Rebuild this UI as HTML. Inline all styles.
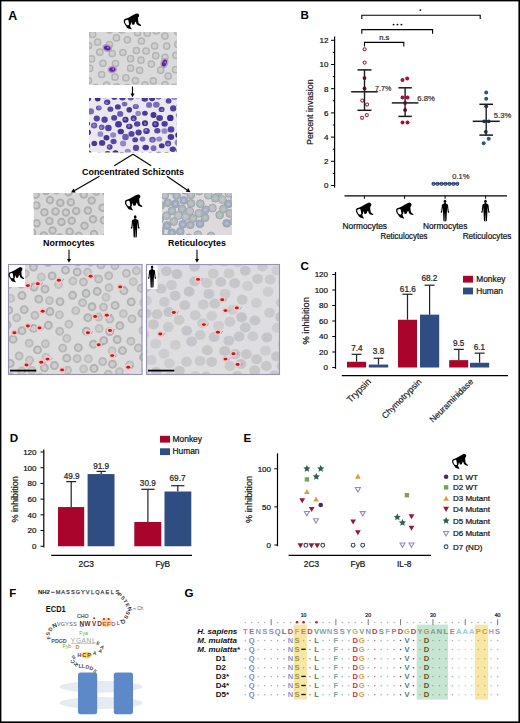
<!DOCTYPE html>
<html><head><meta charset="utf-8"><style>
html,body{margin:0;padding:0;background:#fff;}
svg{display:block;}
text{font-family:"Liberation Sans",sans-serif;}
</style></head><body>
<svg width="520" height="723" viewBox="0 0 520 723">
<defs><g id="monkey"><path fill-rule="evenodd" d="M12.73,-0.18 L14.28,0.22 L15.15,1.43 L14.92,3.16 L14.00,3.97 L14.11,6.74 L14.57,9.34 L16.02,10.66 L17.17,11.47 L16.88,12.28 L15.44,12.05 L13.71,11.36 L12.55,10.32 L12.15,8.82 L11.57,7.89 L11.00,8.93 L10.36,10.78 L9.15,11.18 L8.05,10.84 L7.65,9.22 L7.24,8.36 L6.96,9.63 L6.73,11.01 L6.03,12.05 L6.61,13.55 L7.65,15.17 L7.30,15.86 L5.63,15.17 L3.96,14.82 L2.80,13.78 L1.76,12.16 L0.61,10.43 L-0.26,8.70 L-0.26,6.86 L0.61,5.47 L2.46,4.89 L5.34,3.74 L8.23,2.01 L11.11,0.51 Z M1.59,6.68 L3.32,6.16 L4.36,6.63 L4.76,8.93 L5.11,10.66 L4.53,11.59 L3.38,11.59 L1.99,10.66 L1.07,8.70 L1.07,7.32 Z" fill="#000"/></g><g id="human"><ellipse cx="5" cy="1.7" rx="1.35" ry="1.7" fill="#000"/><path d="M4.2,3.2 L5.8,3.2 L6.0,4.0 L7.6,4.6 C8.1,4.9 8.2,5.6 8.3,6.6 L8.8,11.6 C9.5,12.0 9.6,13.1 8.9,13.4 C8.2,13.6 7.7,12.9 7.8,12.0 L7.2,7.6 L7.1,11.0 L6.8,16.5 L6.6,21.2 C6.7,22.0 6.0,22.4 5.3,22.3 L5.1,14.2 L4.9,14.2 L4.7,22.3 C4.0,22.4 3.3,22.0 3.4,21.2 L3.2,16.5 L2.9,11.0 L2.8,7.6 L2.2,12.0 C2.3,12.9 1.8,13.6 1.1,13.4 C0.4,13.1 0.5,12.0 1.2,11.6 L1.7,6.6 C1.8,5.6 1.9,4.9 2.4,4.6 L4.0,4.0 Z" fill="#000"/></g>
<filter id="soft" x="-5%" y="-5%" width="110%" height="110%"><feGaussianBlur stdDeviation="0.45"/></filter>
</defs>
<rect x="0" y="0" width="520" height="723" fill="#000"/>
<rect x="1.4" y="1.4" width="517" height="720" fill="#fff"/>
<text x="8.2" y="20.1" font-size="12.4" fill="#000" font-weight="bold">A</text>
<use href="#monkey" transform="translate(124,13.6) scale(1.0,1.0)"/>
<clipPath id="c1"><rect x="89" y="32" width="88" height="53"/></clipPath>
<g clip-path="url(#c1)" filter="url(#soft)">
<rect x="89" y="32" width="88" height="53" fill="#dadada"/>
<circle cx="116.4" cy="37.9" r="3.1" fill="#cfcfcf" stroke="#b4b4b4" stroke-width="1.5"/>
<circle cx="147.2" cy="33.3" r="3.1" fill="#cfcfcf" stroke="#b4b4b4" stroke-width="1.5"/>
<circle cx="136.4" cy="50.6" r="3.1" fill="#cfcfcf" stroke="#b4b4b4" stroke-width="1.5"/>
<circle cx="91.5" cy="58.9" r="3.1" fill="#cfcfcf" stroke="#b4b4b4" stroke-width="1.5"/>
<circle cx="92.6" cy="34.4" r="3.1" fill="#cfcfcf" stroke="#b4b4b4" stroke-width="1.5"/>
<circle cx="125.9" cy="77.8" r="3.1" fill="#cfcfcf" stroke="#b4b4b4" stroke-width="1.5"/>
<circle cx="97.6" cy="42.2" r="3.1" fill="#cfcfcf" stroke="#b4b4b4" stroke-width="1.5"/>
<circle cx="145.0" cy="84.9" r="3.1" fill="#cfcfcf" stroke="#b4b4b4" stroke-width="1.5"/>
<circle cx="177.8" cy="31.7" r="3.1" fill="#cfcfcf" stroke="#b4b4b4" stroke-width="1.5"/>
<circle cx="166.7" cy="46.1" r="3.1" fill="#cfcfcf" stroke="#b4b4b4" stroke-width="1.5"/>
<circle cx="115.0" cy="77.2" r="3.1" fill="#cfcfcf" stroke="#b4b4b4" stroke-width="1.5"/>
<circle cx="103.0" cy="63.3" r="3.1" fill="#cfcfcf" stroke="#b4b4b4" stroke-width="1.5"/>
<circle cx="146.1" cy="51.0" r="3.1" fill="#cfcfcf" stroke="#b4b4b4" stroke-width="1.5"/>
<circle cx="137.5" cy="32.7" r="3.1" fill="#cfcfcf" stroke="#b4b4b4" stroke-width="1.5"/>
<circle cx="115.5" cy="63.5" r="3.1" fill="#cfcfcf" stroke="#b4b4b4" stroke-width="1.5"/>
<circle cx="160.7" cy="70.2" r="3.1" fill="#cfcfcf" stroke="#b4b4b4" stroke-width="1.5"/>
<circle cx="135.4" cy="80.6" r="3.1" fill="#cfcfcf" stroke="#b4b4b4" stroke-width="1.5"/>
<circle cx="154.6" cy="46.0" r="3.1" fill="#cfcfcf" stroke="#b4b4b4" stroke-width="1.5"/>
<circle cx="89.7" cy="68.4" r="3.1" fill="#cfcfcf" stroke="#b4b4b4" stroke-width="1.5"/>
<circle cx="151.4" cy="64.1" r="3.1" fill="#cfcfcf" stroke="#b4b4b4" stroke-width="1.5"/>
<circle cx="165.0" cy="84.7" r="3.1" fill="#cfcfcf" stroke="#b4b4b4" stroke-width="1.5"/>
<circle cx="130.6" cy="68.2" r="3.1" fill="#cfcfcf" stroke="#b4b4b4" stroke-width="1.5"/>
<circle cx="112.2" cy="53.5" r="3.1" fill="#cfcfcf" stroke="#b4b4b4" stroke-width="1.5"/>
<circle cx="175.6" cy="69.7" r="3.1" fill="#cfcfcf" stroke="#b4b4b4" stroke-width="1.5"/>
<circle cx="168.2" cy="76.1" r="3.1" fill="#cfcfcf" stroke="#b4b4b4" stroke-width="1.5"/>
<circle cx="122.9" cy="52.5" r="3.1" fill="#cfcfcf" stroke="#b4b4b4" stroke-width="1.5"/>
<circle cx="88.4" cy="80.6" r="3.1" fill="#cfcfcf" stroke="#b4b4b4" stroke-width="1.5"/>
<circle cx="101.7" cy="74.5" r="3.1" fill="#cfcfcf" stroke="#b4b4b4" stroke-width="1.5"/>
<circle cx="88.6" cy="45.5" r="3.1" fill="#cfcfcf" stroke="#b4b4b4" stroke-width="1.5"/>
<circle cx="175.9" cy="55.4" r="3.1" fill="#cfcfcf" stroke="#b4b4b4" stroke-width="1.5"/>
<circle cx="174.1" cy="87.3" r="3.1" fill="#cfcfcf" stroke="#b4b4b4" stroke-width="1.5"/>
<circle cx="165.0" cy="57.3" r="3.1" fill="#cfcfcf" stroke="#b4b4b4" stroke-width="1.5"/>
<circle cx="127.4" cy="39.8" r="3.1" fill="#cfcfcf" stroke="#b4b4b4" stroke-width="1.5"/>
<circle cx="106.6" cy="85.2" r="3.1" fill="#cfcfcf" stroke="#b4b4b4" stroke-width="1.5"/>
<circle cx="139.6" cy="70.3" r="3.1" fill="#cfcfcf" stroke="#b4b4b4" stroke-width="1.5"/>
<circle cx="109.5" cy="29.9" r="3.1" fill="#cfcfcf" stroke="#b4b4b4" stroke-width="1.5"/>
<circle cx="130.6" cy="58.7" r="3.1" fill="#cfcfcf" stroke="#b4b4b4" stroke-width="1.5"/>
<circle cx="141.0" cy="60.2" r="3.1" fill="#cfcfcf" stroke="#b4b4b4" stroke-width="1.5"/>
<circle cx="153.3" cy="80.9" r="3.1" fill="#cfcfcf" stroke="#b4b4b4" stroke-width="1.5"/>
<circle cx="164.9" cy="36.1" r="3.1" fill="#cfcfcf" stroke="#b4b4b4" stroke-width="1.5"/>
<circle cx="109.4" cy="44.7" r="3.1" fill="#cfcfcf" stroke="#b4b4b4" stroke-width="1.5"/>
<circle cx="177.8" cy="44.3" r="3.1" fill="#cfcfcf" stroke="#b4b4b4" stroke-width="1.5"/>
<circle cx="99.8" cy="52.2" r="3.1" fill="#cfcfcf" stroke="#b4b4b4" stroke-width="1.5"/>
<circle cx="156.2" cy="30.9" r="3.1" fill="#cfcfcf" stroke="#b4b4b4" stroke-width="1.5"/>
<circle cx="116.6" cy="86.8" r="3.1" fill="#cfcfcf" stroke="#b4b4b4" stroke-width="1.5"/>
<circle cx="95.8" cy="87.6" r="3.1" fill="#cfcfcf" stroke="#b4b4b4" stroke-width="1.5"/>
<circle cx="141.4" cy="41.0" r="3.1" fill="#cfcfcf" stroke="#b4b4b4" stroke-width="1.5"/>
<circle cx="155.7" cy="55.7" r="3.1" fill="#cfcfcf" stroke="#b4b4b4" stroke-width="1.5"/>
<circle cx="121.8" cy="30.0" r="3.1" fill="#cfcfcf" stroke="#b4b4b4" stroke-width="1.5"/>
<circle cx="127.4" cy="87.6" r="3.1" fill="#cfcfcf" stroke="#b4b4b4" stroke-width="1.5"/>
<ellipse cx="107.2" cy="48" rx="5.0" ry="4.0" fill="#b89ad4" transform="rotate(15 107.2 48)"/>
<ellipse cx="107.2" cy="48" rx="3.4" ry="2.4" fill="#5a2f8c" transform="rotate(15 107.2 48)"/>
<circle cx="108.0" cy="47.4" r="0.9" fill="#a886cc"/>
<ellipse cx="112.3" cy="69.5" rx="4.8" ry="3.9" fill="#b89ad4" transform="rotate(-10 112.3 69.5)"/>
<ellipse cx="112.3" cy="69.5" rx="3.1999999999999997" ry="2.3" fill="#5a2f8c" transform="rotate(-10 112.3 69.5)"/>
<circle cx="113.1" cy="68.9" r="0.9" fill="#a886cc"/>
<ellipse cx="164.4" cy="63" rx="3.9" ry="5.2" fill="#b89ad4" transform="rotate(20 164.4 63)"/>
<ellipse cx="164.4" cy="63" rx="2.3" ry="3.6" fill="#5a2f8c" transform="rotate(20 164.4 63)"/>
<circle cx="165.20000000000002" cy="62.4" r="0.9" fill="#a886cc"/>
</g>
<line x1="132.5" y1="86.5" x2="132.5" y2="94.10000000000001" stroke="#000" stroke-width="1.1"/>
<path d="M132.50,97.20 L130.50,93.60 L134.50,93.60 Z" fill="#000"/>
<clipPath id="c2"><rect x="89" y="98" width="88" height="54.5"/></clipPath>
<g clip-path="url(#c2)" filter="url(#soft)">
<rect x="89" y="98" width="88" height="54.5" fill="#ebe7ef"/>
<ellipse cx="108.4" cy="127.9" rx="3.27" ry="3.23" fill="#5242a0"/>
<ellipse cx="120.8" cy="131.5" rx="3.18" ry="2.84" fill="#443494"/>
<ellipse cx="144.8" cy="99.0" rx="3.22" ry="2.77" fill="#4c3c9c"/>
<ellipse cx="87.2" cy="145.7" rx="3.05" ry="2.82" fill="#5646a4"/>
<circle cx="87.6" cy="146.1" r="1.37" fill="#a89cd4" opacity="0.6"/>
<ellipse cx="110.4" cy="109.2" rx="2.97" ry="2.66" fill="#5646a4"/>
<ellipse cx="179.6" cy="123.5" rx="2.85" ry="2.53" fill="#4a3898"/>
<ellipse cx="164.6" cy="123.8" rx="3.18" ry="2.89" fill="#4c3c9c"/>
<ellipse cx="145.7" cy="147.5" rx="3.31" ry="2.82" fill="#4a3898"/>
<ellipse cx="135.2" cy="139.8" rx="2.94" ry="2.54" fill="#5242a0"/>
<ellipse cx="157.3" cy="130.8" rx="3.13" ry="2.68" fill="#5646a4"/>
<ellipse cx="114.3" cy="96.9" rx="2.96" ry="2.93" fill="#443494"/>
<ellipse cx="153.6" cy="148.2" rx="2.90" ry="2.88" fill="#7a6cb4"/>
<ellipse cx="123.1" cy="143.5" rx="3.11" ry="2.93" fill="#9488c4"/>
<ellipse cx="127.8" cy="151.6" rx="3.01" ry="2.90" fill="#9488c4"/>
<circle cx="127.7" cy="151.7" r="1.35" fill="#a89cd4" opacity="0.6"/>
<ellipse cx="168.6" cy="100.9" rx="2.90" ry="2.58" fill="#5646a4"/>
<ellipse cx="98.8" cy="108.1" rx="2.91" ry="2.48" fill="#6a5cae"/>
<circle cx="99.5" cy="107.5" r="1.31" fill="#a89cd4" opacity="0.6"/>
<ellipse cx="144.9" cy="113.2" rx="2.84" ry="2.52" fill="#4a3898"/>
<ellipse cx="133.7" cy="118.3" rx="3.02" ry="2.94" fill="#4c3c9c"/>
<circle cx="133.4" cy="119.1" r="1.36" fill="#a89cd4" opacity="0.6"/>
<ellipse cx="166.5" cy="155.0" rx="3.10" ry="2.99" fill="#5242a0"/>
<ellipse cx="149.1" cy="104.9" rx="3.00" ry="2.85" fill="#7a6cb4"/>
<ellipse cx="171.0" cy="129.4" rx="3.33" ry="3.16" fill="#5242a0"/>
<ellipse cx="94.3" cy="143.4" rx="2.84" ry="2.63" fill="#4a3898"/>
<ellipse cx="124.6" cy="104.1" rx="2.86" ry="2.45" fill="#7a6cb4"/>
<ellipse cx="113.6" cy="141.5" rx="3.02" ry="2.65" fill="#5646a4"/>
<ellipse cx="153.5" cy="115.0" rx="2.98" ry="2.91" fill="#443494"/>
<ellipse cx="133.5" cy="155.4" rx="2.88" ry="2.83" fill="#443494"/>
<circle cx="133.3" cy="154.9" r="1.30" fill="#a89cd4" opacity="0.6"/>
<ellipse cx="104.6" cy="119.7" rx="3.16" ry="3.15" fill="#5242a0"/>
<ellipse cx="115.5" cy="153.0" rx="3.02" ry="2.74" fill="#3e2e88"/>
<ellipse cx="170.3" cy="117.9" rx="3.26" ry="3.20" fill="#3e2e88"/>
<ellipse cx="129.3" cy="126.5" rx="3.26" ry="2.77" fill="#443494"/>
<circle cx="129.0" cy="126.0" r="1.47" fill="#a89cd4" opacity="0.6"/>
<ellipse cx="146.5" cy="131.0" rx="3.32" ry="3.09" fill="#4c3c9c"/>
<circle cx="145.9" cy="130.3" r="1.49" fill="#a89cd4" opacity="0.6"/>
<ellipse cx="138.6" cy="132.5" rx="3.17" ry="2.89" fill="#4c3c9c"/>
<ellipse cx="137.6" cy="95.7" rx="3.32" ry="2.89" fill="#9488c4"/>
<circle cx="138.1" cy="95.8" r="1.49" fill="#a89cd4" opacity="0.6"/>
<ellipse cx="87.9" cy="132.3" rx="3.08" ry="2.91" fill="#443494"/>
<ellipse cx="145.0" cy="123.2" rx="3.01" ry="2.85" fill="#3e2e88"/>
<circle cx="145.1" cy="123.7" r="1.35" fill="#a89cd4" opacity="0.6"/>
<ellipse cx="152.5" cy="139.7" rx="3.28" ry="2.84" fill="#6a5cae"/>
<circle cx="152.4" cy="140.3" r="1.48" fill="#a89cd4" opacity="0.6"/>
<ellipse cx="88.1" cy="98.7" rx="2.91" ry="2.62" fill="#4a3898"/>
<ellipse cx="120.2" cy="113.9" rx="3.11" ry="2.92" fill="#6a5cae"/>
<ellipse cx="114.2" cy="117.8" rx="3.08" ry="2.89" fill="#5242a0"/>
<ellipse cx="158.6" cy="96.6" rx="3.33" ry="3.04" fill="#7a6cb4"/>
<ellipse cx="161.6" cy="109.4" rx="2.94" ry="2.69" fill="#4c3c9c"/>
<circle cx="162.0" cy="110.0" r="1.32" fill="#a89cd4" opacity="0.6"/>
<ellipse cx="107.2" cy="102.3" rx="3.13" ry="2.74" fill="#4c3c9c"/>
<circle cx="106.6" cy="102.8" r="1.41" fill="#a89cd4" opacity="0.6"/>
<ellipse cx="135.8" cy="106.5" rx="3.03" ry="2.58" fill="#6a5cae"/>
<circle cx="135.8" cy="105.9" r="1.36" fill="#a89cd4" opacity="0.6"/>
<ellipse cx="161.8" cy="145.7" rx="2.91" ry="2.55" fill="#443494"/>
<ellipse cx="125.5" cy="119.8" rx="3.08" ry="3.05" fill="#3e2e88"/>
<circle cx="125.2" cy="119.4" r="1.39" fill="#a89cd4" opacity="0.6"/>
<ellipse cx="173.2" cy="108.4" rx="3.13" ry="3.06" fill="#5242a0"/>
<ellipse cx="170.9" cy="137.0" rx="3.31" ry="3.00" fill="#4a3898"/>
<ellipse cx="172.8" cy="149.2" rx="3.11" ry="2.77" fill="#4c3c9c"/>
<ellipse cx="109.7" cy="147.1" rx="2.91" ry="2.74" fill="#5242a0"/>
<circle cx="109.0" cy="146.7" r="1.31" fill="#a89cd4" opacity="0.6"/>
<ellipse cx="102.1" cy="142.9" rx="3.19" ry="2.93" fill="#4c3c9c"/>
<ellipse cx="90.7" cy="111.4" rx="3.34" ry="3.03" fill="#7a6cb4"/>
<ellipse cx="97.7" cy="99.1" rx="2.83" ry="2.47" fill="#3e2e88"/>
<ellipse cx="94.1" cy="125.4" rx="3.16" ry="3.00" fill="#6a5cae"/>
<circle cx="94.0" cy="125.4" r="1.42" fill="#a89cd4" opacity="0.6"/>
<ellipse cx="159.6" cy="118.0" rx="3.38" ry="3.01" fill="#4c3c9c"/>
<ellipse cx="125.5" cy="137.0" rx="3.29" ry="3.25" fill="#6a5cae"/>
<ellipse cx="129.3" cy="109.8" rx="2.82" ry="2.80" fill="#4a3898"/>
<ellipse cx="156.3" cy="104.7" rx="3.40" ry="2.93" fill="#7a6cb4"/>
<ellipse cx="131.5" cy="133.9" rx="3.04" ry="2.85" fill="#5242a0"/>
<ellipse cx="99.5" cy="155.0" rx="2.97" ry="2.82" fill="#9488c4"/>
<circle cx="99.5" cy="154.3" r="1.34" fill="#a89cd4" opacity="0.6"/>
<ellipse cx="159.2" cy="139.0" rx="2.99" ry="2.56" fill="#9488c4"/>
<ellipse cx="142.5" cy="139.0" rx="2.85" ry="2.61" fill="#7a6cb4"/>
<ellipse cx="152.1" cy="98.1" rx="3.15" ry="3.10" fill="#443494"/>
<ellipse cx="88.5" cy="153.4" rx="3.03" ry="2.93" fill="#5646a4"/>
<circle cx="89.0" cy="153.2" r="1.36" fill="#a89cd4" opacity="0.6"/>
<ellipse cx="174.4" cy="97.1" rx="3.38" ry="3.02" fill="#9488c4"/>
<ellipse cx="96.8" cy="118.6" rx="3.11" ry="3.00" fill="#5242a0"/>
<ellipse cx="100.4" cy="134.0" rx="2.93" ry="2.87" fill="#9488c4"/>
<ellipse cx="107.6" cy="153.5" rx="2.86" ry="2.48" fill="#443494"/>
<circle cx="107.9" cy="153.9" r="1.29" fill="#a89cd4" opacity="0.6"/>
<ellipse cx="164.5" cy="131.0" rx="3.07" ry="2.84" fill="#9488c4"/>
<ellipse cx="118.5" cy="124.3" rx="3.38" ry="3.27" fill="#4a3898"/>
<ellipse cx="179.6" cy="115.3" rx="3.39" ry="3.07" fill="#7a6cb4"/>
<ellipse cx="179.7" cy="150.7" rx="3.35" ry="2.88" fill="#6a5cae"/>
<circle cx="179.2" cy="151.2" r="1.51" fill="#a89cd4" opacity="0.6"/>
<ellipse cx="178.1" cy="142.5" rx="3.40" ry="3.36" fill="#9488c4"/>
<ellipse cx="150.3" cy="155.0" rx="2.87" ry="2.71" fill="#6a5cae"/>
<ellipse cx="136.0" cy="147.9" rx="3.15" ry="3.03" fill="#5646a4"/>
<ellipse cx="178.3" cy="135.0" rx="3.08" ry="2.86" fill="#3e2e88"/>
<ellipse cx="122.5" cy="97.8" rx="3.23" ry="2.78" fill="#4c3c9c"/>
<ellipse cx="155.5" cy="124.3" rx="3.28" ry="3.26" fill="#3e2e88"/>
<circle cx="155.3" cy="123.9" r="1.48" fill="#a89cd4" opacity="0.6"/>
<ellipse cx="117.9" cy="106.9" rx="3.00" ry="2.63" fill="#4c3c9c"/>
<ellipse cx="180.0" cy="105.2" rx="3.23" ry="2.94" fill="#3e2e88"/>
<ellipse cx="87.1" cy="123.6" rx="2.95" ry="2.63" fill="#443494"/>
<ellipse cx="137.2" cy="124.0" rx="3.24" ry="2.79" fill="#5242a0"/>
<ellipse cx="86.0" cy="105.8" rx="3.04" ry="2.88" fill="#5242a0"/>
<ellipse cx="113.2" cy="134.9" rx="3.03" ry="2.77" fill="#9488c4"/>
<ellipse cx="142.3" cy="155.5" rx="3.35" ry="3.00" fill="#5646a4"/>
<ellipse cx="86.0" cy="138.8" rx="3.00" ry="2.63" fill="#4c3c9c"/>
<ellipse cx="158.7" cy="154.7" rx="3.04" ry="2.95" fill="#443494"/>
<ellipse cx="104.3" cy="95.7" rx="3.04" ry="2.58" fill="#5646a4"/>
<ellipse cx="101.7" cy="127.2" rx="2.83" ry="2.81" fill="#6a5cae"/>
<circle cx="101.1" cy="127.7" r="1.27" fill="#a89cd4" opacity="0.6"/>
<ellipse cx="130.7" cy="97.8" rx="3.10" ry="2.70" fill="#6a5cae"/>
<ellipse cx="168.1" cy="143.5" rx="3.06" ry="2.95" fill="#5242a0"/>
<circle cx="168.2" cy="144.2" r="1.38" fill="#a89cd4" opacity="0.6"/>
<ellipse cx="138.2" cy="113.4" rx="2.85" ry="2.57" fill="#9488c4"/>
<ellipse cx="122.0" cy="155.2" rx="3.25" ry="3.19" fill="#4a3898"/>
<ellipse cx="106.5" cy="137.8" rx="2.99" ry="2.73" fill="#443494"/>
</g>
<line x1="133" y1="154.2" x2="114.2" y2="165.8" stroke="#000" stroke-width="1.1"/>
<line x1="133" y1="154.2" x2="151.2" y2="165.8" stroke="#000" stroke-width="1.1"/>
<text x="133" y="174.6" font-size="9" fill="#000" text-anchor="middle" font-weight="bold" textLength="102" lengthAdjust="spacingAndGlyphs">Concentrated Schizonts</text>
<line x1="99.5" y1="176.3" x2="74.21180588926819" y2="190.76307242122556" stroke="#000" stroke-width="1.1"/>
<path d="M71.00,192.60 L73.55,188.61 L75.74,192.42 Z" fill="#000"/>
<line x1="167" y1="176.3" x2="187.4415827839199" y2="190.21767338479654" stroke="#000" stroke-width="1.1"/>
<path d="M190.50,192.30 L185.79,191.75 L188.27,188.12 Z" fill="#000"/>
<clipPath id="c3"><rect x="33.5" y="193" width="70.5" height="42"/></clipPath>
<g clip-path="url(#c3)" filter="url(#soft)">
<rect x="33.5" y="193" width="70.5" height="42" fill="#d7d7d7"/>
<circle cx="69.6" cy="231.7" r="3.3" fill="#cdcdcd" stroke="#b0b0b0" stroke-width="1.9"/>
<circle cx="55.5" cy="211.4" r="3.3" fill="#cdcdcd" stroke="#b0b0b0" stroke-width="1.9"/>
<circle cx="87.9" cy="210.6" r="3.3" fill="#cdcdcd" stroke="#b0b0b0" stroke-width="1.9"/>
<circle cx="102.6" cy="207.8" r="3.3" fill="#cdcdcd" stroke="#b0b0b0" stroke-width="1.9"/>
<circle cx="94.0" cy="234.0" r="3.3" fill="#cdcdcd" stroke="#b0b0b0" stroke-width="1.9"/>
<circle cx="36.4" cy="205.4" r="3.3" fill="#cdcdcd" stroke="#b0b0b0" stroke-width="1.9"/>
<circle cx="103.9" cy="220.3" r="3.3" fill="#cdcdcd" stroke="#b0b0b0" stroke-width="1.9"/>
<circle cx="70.9" cy="202.2" r="3.3" fill="#cdcdcd" stroke="#b0b0b0" stroke-width="1.9"/>
<circle cx="56.6" cy="190.3" r="3.3" fill="#cdcdcd" stroke="#b0b0b0" stroke-width="1.9"/>
<circle cx="96.3" cy="191.6" r="3.3" fill="#cdcdcd" stroke="#b0b0b0" stroke-width="1.9"/>
<circle cx="83.7" cy="194.6" r="3.3" fill="#cdcdcd" stroke="#b0b0b0" stroke-width="1.9"/>
<circle cx="43.8" cy="235.4" r="3.3" fill="#cdcdcd" stroke="#b0b0b0" stroke-width="1.9"/>
<circle cx="106.0" cy="237.0" r="3.3" fill="#cdcdcd" stroke="#b0b0b0" stroke-width="1.9"/>
<circle cx="50.0" cy="200.1" r="3.3" fill="#cdcdcd" stroke="#b0b0b0" stroke-width="1.9"/>
<circle cx="49.4" cy="220.9" r="3.3" fill="#cdcdcd" stroke="#b0b0b0" stroke-width="1.9"/>
<circle cx="36.6" cy="223.3" r="3.3" fill="#cdcdcd" stroke="#b0b0b0" stroke-width="1.9"/>
<circle cx="71.7" cy="220.8" r="3.3" fill="#cdcdcd" stroke="#b0b0b0" stroke-width="1.9"/>
<circle cx="35.6" cy="194.7" r="3.3" fill="#cdcdcd" stroke="#b0b0b0" stroke-width="1.9"/>
<circle cx="84.5" cy="225.8" r="3.3" fill="#cdcdcd" stroke="#b0b0b0" stroke-width="1.9"/>
<circle cx="61.5" cy="222.0" r="3.3" fill="#cdcdcd" stroke="#b0b0b0" stroke-width="1.9"/>
<circle cx="59.6" cy="237.5" r="3.3" fill="#cdcdcd" stroke="#b0b0b0" stroke-width="1.9"/>
<circle cx="106.4" cy="192.3" r="3.3" fill="#cdcdcd" stroke="#b0b0b0" stroke-width="1.9"/>
<circle cx="68.5" cy="192.2" r="3.3" fill="#cdcdcd" stroke="#b0b0b0" stroke-width="1.9"/>
<circle cx="76.2" cy="211.0" r="3.3" fill="#cdcdcd" stroke="#b0b0b0" stroke-width="1.9"/>
<circle cx="78.8" cy="235.7" r="3.3" fill="#cdcdcd" stroke="#b0b0b0" stroke-width="1.9"/>
<circle cx="32.1" cy="232.4" r="3.3" fill="#cdcdcd" stroke="#b0b0b0" stroke-width="1.9"/>
<circle cx="44.4" cy="212.3" r="3.3" fill="#cdcdcd" stroke="#b0b0b0" stroke-width="1.9"/>
<circle cx="91.7" cy="200.6" r="3.3" fill="#cdcdcd" stroke="#b0b0b0" stroke-width="1.9"/>
<circle cx="65.9" cy="212.5" r="3.3" fill="#cdcdcd" stroke="#b0b0b0" stroke-width="1.9"/>
<circle cx="46.0" cy="191.0" r="3.3" fill="#cdcdcd" stroke="#b0b0b0" stroke-width="1.9"/>
<circle cx="93.0" cy="219.3" r="3.3" fill="#cdcdcd" stroke="#b0b0b0" stroke-width="1.9"/>
<circle cx="60.3" cy="202.8" r="3.3" fill="#cdcdcd" stroke="#b0b0b0" stroke-width="1.9"/>
<circle cx="52.6" cy="230.5" r="3.3" fill="#cdcdcd" stroke="#b0b0b0" stroke-width="1.9"/>
</g>
<clipPath id="c4"><rect x="162" y="193" width="70" height="42"/></clipPath>
<g clip-path="url(#c4)" filter="url(#soft)">
<rect x="162" y="193" width="70" height="42" fill="#ddd9dc"/>
<circle cx="190.8" cy="194.9" r="3.9" fill="#b0bab6" stroke="#9aa4ae" stroke-width="0.9"/>
<circle cx="190.8" cy="194.9" r="1.6" fill="#c2c8cc" opacity="0.7"/>
<circle cx="222.4" cy="199.6" r="3.9" fill="#bac0c2" stroke="#9aa4ae" stroke-width="0.9"/>
<circle cx="222.4" cy="199.6" r="1.6" fill="#c2c8cc" opacity="0.7"/>
<circle cx="197.9" cy="234.8" r="3.9" fill="#bac0c2" stroke="#9aa4ae" stroke-width="0.9"/>
<circle cx="197.9" cy="234.8" r="1.6" fill="#c2c8cc" opacity="0.7"/>
<circle cx="159.6" cy="219.5" r="3.9" fill="#a6b0bf" stroke="#9aa4ae" stroke-width="0.9"/>
<circle cx="159.6" cy="219.5" r="1.6" fill="#c2c8cc" opacity="0.7"/>
<circle cx="219.7" cy="215.0" r="3.9" fill="#b0bab6" stroke="#9aa4ae" stroke-width="0.9"/>
<circle cx="219.7" cy="215.0" r="1.6" fill="#c2c8cc" opacity="0.7"/>
<circle cx="200.3" cy="203.7" r="3.9" fill="#b0bab6" stroke="#9aa4ae" stroke-width="0.9"/>
<circle cx="200.3" cy="203.7" r="1.6" fill="#c2c8cc" opacity="0.7"/>
<circle cx="229.8" cy="213.5" r="3.9" fill="#b0bab6" stroke="#9aa4ae" stroke-width="0.9"/>
<circle cx="229.8" cy="213.5" r="1.6" fill="#c2c8cc" opacity="0.7"/>
<circle cx="185.5" cy="216.8" r="3.9" fill="#bac0c2" stroke="#9aa4ae" stroke-width="0.9"/>
<circle cx="185.5" cy="216.8" r="1.6" fill="#c2c8cc" opacity="0.7"/>
<circle cx="173.6" cy="221.6" r="3.9" fill="#b4bcbe" stroke="#9aa4ae" stroke-width="0.9"/>
<circle cx="173.6" cy="221.6" r="1.6" fill="#c2c8cc" opacity="0.7"/>
<circle cx="167.7" cy="202.8" r="3.9" fill="#a6b0bf" stroke="#9aa4ae" stroke-width="0.9"/>
<circle cx="167.7" cy="202.8" r="1.6" fill="#c2c8cc" opacity="0.7"/>
<circle cx="164.8" cy="195.2" r="3.9" fill="#b4bcbe" stroke="#9aa4ae" stroke-width="0.9"/>
<circle cx="164.8" cy="195.2" r="1.6" fill="#c2c8cc" opacity="0.7"/>
<circle cx="198.8" cy="213.3" r="3.9" fill="#b4bcbe" stroke="#9aa4ae" stroke-width="0.9"/>
<circle cx="198.8" cy="213.3" r="1.6" fill="#c2c8cc" opacity="0.7"/>
<circle cx="182.1" cy="209.0" r="3.9" fill="#acb6b8" stroke="#9aa4ae" stroke-width="0.9"/>
<circle cx="182.1" cy="209.0" r="1.6" fill="#c2c8cc" opacity="0.7"/>
<circle cx="180.3" cy="231.5" r="3.9" fill="#a6b0bf" stroke="#9aa4ae" stroke-width="0.9"/>
<circle cx="180.3" cy="231.5" r="1.6" fill="#c2c8cc" opacity="0.7"/>
<circle cx="160.3" cy="231.1" r="3.9" fill="#a6b0bf" stroke="#9aa4ae" stroke-width="0.9"/>
<circle cx="160.3" cy="231.1" r="1.6" fill="#c2c8cc" opacity="0.7"/>
<circle cx="226.7" cy="223.3" r="3.9" fill="#9eaac2" stroke="#9aa4ae" stroke-width="0.9"/>
<circle cx="226.7" cy="223.3" r="1.6" fill="#c2c8cc" opacity="0.7"/>
<circle cx="229.0" cy="193.4" r="3.9" fill="#bac0c2" stroke="#9aa4ae" stroke-width="0.9"/>
<circle cx="229.0" cy="193.4" r="1.6" fill="#c2c8cc" opacity="0.7"/>
<circle cx="228.4" cy="203.9" r="3.9" fill="#9eaac2" stroke="#9aa4ae" stroke-width="0.9"/>
<circle cx="228.4" cy="203.9" r="1.6" fill="#c2c8cc" opacity="0.7"/>
<circle cx="175.4" cy="203.9" r="3.9" fill="#9eaac2" stroke="#9aa4ae" stroke-width="0.9"/>
<circle cx="175.4" cy="203.9" r="1.6" fill="#c2c8cc" opacity="0.7"/>
<circle cx="166.6" cy="215.7" r="3.9" fill="#b4bcbe" stroke="#9aa4ae" stroke-width="0.9"/>
<circle cx="166.6" cy="215.7" r="1.6" fill="#c2c8cc" opacity="0.7"/>
<circle cx="183.7" cy="200.4" r="3.9" fill="#9eaac2" stroke="#9aa4ae" stroke-width="0.9"/>
<circle cx="183.7" cy="200.4" r="1.6" fill="#c2c8cc" opacity="0.7"/>
<circle cx="176.6" cy="195.6" r="3.9" fill="#a6b0bf" stroke="#9aa4ae" stroke-width="0.9"/>
<circle cx="176.6" cy="195.6" r="1.6" fill="#c2c8cc" opacity="0.7"/>
<circle cx="205.1" cy="217.7" r="3.9" fill="#acb6b8" stroke="#9aa4ae" stroke-width="0.9"/>
<circle cx="205.1" cy="217.7" r="1.6" fill="#c2c8cc" opacity="0.7"/>
<circle cx="171.9" cy="210.9" r="3.9" fill="#acb6b8" stroke="#9aa4ae" stroke-width="0.9"/>
<circle cx="171.9" cy="210.9" r="1.6" fill="#c2c8cc" opacity="0.7"/>
<circle cx="199.1" cy="191.1" r="3.9" fill="#b4bcbe" stroke="#9aa4ae" stroke-width="0.9"/>
<circle cx="199.1" cy="191.1" r="1.6" fill="#c2c8cc" opacity="0.7"/>
<circle cx="165.0" cy="238.0" r="3.9" fill="#b0bab6" stroke="#9aa4ae" stroke-width="0.9"/>
<circle cx="165.0" cy="238.0" r="1.6" fill="#c2c8cc" opacity="0.7"/>
<circle cx="208.4" cy="195.2" r="3.9" fill="#bac0c2" stroke="#9aa4ae" stroke-width="0.9"/>
<circle cx="208.4" cy="195.2" r="1.6" fill="#c2c8cc" opacity="0.7"/>
<circle cx="211.1" cy="236.0" r="3.9" fill="#b4bcbe" stroke="#9aa4ae" stroke-width="0.9"/>
<circle cx="211.1" cy="236.0" r="1.6" fill="#c2c8cc" opacity="0.7"/>
<circle cx="190.3" cy="224.8" r="3.9" fill="#a6b0bf" stroke="#9aa4ae" stroke-width="0.9"/>
<circle cx="190.3" cy="224.8" r="1.6" fill="#c2c8cc" opacity="0.7"/>
<circle cx="212.4" cy="208.1" r="3.9" fill="#bac0c2" stroke="#9aa4ae" stroke-width="0.9"/>
<circle cx="212.4" cy="208.1" r="1.6" fill="#c2c8cc" opacity="0.7"/>
<circle cx="191.0" cy="203.4" r="3.9" fill="#b0bab6" stroke="#9aa4ae" stroke-width="0.9"/>
<circle cx="191.0" cy="203.4" r="1.6" fill="#c2c8cc" opacity="0.7"/>
<circle cx="171.8" cy="232.7" r="3.9" fill="#9eaac2" stroke="#9aa4ae" stroke-width="0.9"/>
<circle cx="171.8" cy="232.7" r="1.6" fill="#c2c8cc" opacity="0.7"/>
<circle cx="185.0" cy="190.2" r="3.9" fill="#9eaac2" stroke="#9aa4ae" stroke-width="0.9"/>
<circle cx="185.0" cy="190.2" r="1.6" fill="#c2c8cc" opacity="0.7"/>
<circle cx="167.0" cy="225.6" r="3.9" fill="#9eaac2" stroke="#9aa4ae" stroke-width="0.9"/>
<circle cx="167.0" cy="225.6" r="1.6" fill="#c2c8cc" opacity="0.7"/>
<circle cx="160.7" cy="205.5" r="3.9" fill="#acb6b8" stroke="#9aa4ae" stroke-width="0.9"/>
<circle cx="160.7" cy="205.5" r="1.6" fill="#c2c8cc" opacity="0.7"/>
<circle cx="223.4" cy="208.9" r="3.9" fill="#b0bab6" stroke="#9aa4ae" stroke-width="0.9"/>
<circle cx="223.4" cy="208.9" r="1.6" fill="#c2c8cc" opacity="0.7"/>
<circle cx="193.0" cy="218.4" r="3.9" fill="#b0bab6" stroke="#9aa4ae" stroke-width="0.9"/>
<circle cx="193.0" cy="218.4" r="1.6" fill="#c2c8cc" opacity="0.7"/>
<circle cx="188.9" cy="237.9" r="3.9" fill="#a6b0bf" stroke="#9aa4ae" stroke-width="0.9"/>
<circle cx="188.9" cy="237.9" r="1.6" fill="#c2c8cc" opacity="0.7"/>
<circle cx="215.2" cy="198.2" r="3.9" fill="#b0bab6" stroke="#9aa4ae" stroke-width="0.9"/>
<circle cx="215.2" cy="198.2" r="1.6" fill="#c2c8cc" opacity="0.7"/>
<circle cx="218.6" cy="191.7" r="3.9" fill="#acb6b8" stroke="#9aa4ae" stroke-width="0.9"/>
<circle cx="218.6" cy="191.7" r="1.6" fill="#c2c8cc" opacity="0.7"/>
<circle cx="234.0" cy="221.4" r="3.9" fill="#b0bab6" stroke="#9aa4ae" stroke-width="0.9"/>
<circle cx="234.0" cy="221.4" r="1.6" fill="#c2c8cc" opacity="0.7"/>
<circle cx="189.7" cy="211.1" r="3.9" fill="#bac0c2" stroke="#9aa4ae" stroke-width="0.9"/>
<circle cx="189.7" cy="211.1" r="1.6" fill="#c2c8cc" opacity="0.7"/>
<circle cx="234.3" cy="199.7" r="3.9" fill="#bac0c2" stroke="#9aa4ae" stroke-width="0.9"/>
<circle cx="234.3" cy="199.7" r="1.6" fill="#c2c8cc" opacity="0.7"/>
<circle cx="205.5" cy="209.8" r="3.9" fill="#a6b0bf" stroke="#9aa4ae" stroke-width="0.9"/>
<circle cx="205.5" cy="209.8" r="1.6" fill="#c2c8cc" opacity="0.7"/>
<circle cx="178.3" cy="215.5" r="3.9" fill="#bac0c2" stroke="#9aa4ae" stroke-width="0.9"/>
<circle cx="178.3" cy="215.5" r="1.6" fill="#c2c8cc" opacity="0.7"/>
<circle cx="234.9" cy="237.5" r="3.9" fill="#b4bcbe" stroke="#9aa4ae" stroke-width="0.9"/>
<circle cx="234.9" cy="237.5" r="1.6" fill="#c2c8cc" opacity="0.7"/>
<circle cx="199.9" cy="223.8" r="3.9" fill="#9eaac2" stroke="#9aa4ae" stroke-width="0.9"/>
<circle cx="199.9" cy="223.8" r="1.6" fill="#c2c8cc" opacity="0.7"/>
<circle cx="182.8" cy="224.3" r="3.9" fill="#9eaac2" stroke="#9aa4ae" stroke-width="0.9"/>
<circle cx="182.8" cy="224.3" r="1.6" fill="#c2c8cc" opacity="0.7"/>
<circle cx="171.1" cy="190.3" r="3.9" fill="#acb6b8" stroke="#9aa4ae" stroke-width="0.9"/>
<circle cx="171.1" cy="190.3" r="1.6" fill="#c2c8cc" opacity="0.7"/>
</g>
<use href="#monkey" transform="translate(125.2,194.6) scale(1.0,1.0)"/>
<use href="#human" transform="translate(130.2,215.2) scale(1.0,1.0)"/>
<text x="68.8" y="246.2" font-size="9" fill="#000" text-anchor="middle" font-weight="bold" textLength="51.5" lengthAdjust="spacingAndGlyphs">Normocytes</text>
<text x="197" y="246.2" font-size="9" fill="#000" text-anchor="middle" font-weight="bold" textLength="57.8" lengthAdjust="spacingAndGlyphs">Reticulocytes</text>
<line x1="69" y1="249.8" x2="69.0" y2="259.5" stroke="#000" stroke-width="1.1"/>
<path d="M69.00,262.80 L67.00,259.00 L71.00,259.00 Z" fill="#000"/>
<line x1="197" y1="249.8" x2="197.0" y2="259.5" stroke="#000" stroke-width="1.1"/>
<path d="M197.00,262.80 L195.00,259.00 L199.00,259.00 Z" fill="#000"/>
<clipPath id="c5"><rect x="8" y="264" width="134.5" height="111"/></clipPath>
<g clip-path="url(#c5)">
<g filter="url(#soft)">
<rect x="8" y="264" width="134.5" height="111" fill="#dcdcdc"/>
<circle cx="65.5" cy="270.1" r="3.5" fill="#cdcdcd" stroke="#aeb2b2" stroke-width="1.9"/>
<circle cx="86.3" cy="331.2" r="3.5" fill="#cdcdcd" stroke="#aeb2b2" stroke-width="1.9"/>
<circle cx="115.1" cy="305.4" r="3.5" fill="#cdcdcd" stroke="#b2b2b2" stroke-width="1.9"/>
<circle cx="21.0" cy="284.0" r="3.5" fill="#cdcdcd" stroke="#b2b2b2" stroke-width="1.9"/>
<circle cx="34.9" cy="315.3" r="3.5" fill="#cdcdcd" stroke="#b8b8b8" stroke-width="1.9"/>
<circle cx="62.7" cy="348.1" r="3.5" fill="#cdcdcd" stroke="#b8b8b8" stroke-width="1.9"/>
<circle cx="54.4" cy="365.5" r="3.5" fill="#cdcdcd" stroke="#b2b2b2" stroke-width="1.9"/>
<circle cx="96.8" cy="378.6" r="3.5" fill="#cdcdcd" stroke="#b2b2b2" stroke-width="1.9"/>
<circle cx="123.9" cy="290.7" r="3.5" fill="#cdcdcd" stroke="#aeb2b2" stroke-width="1.9"/>
<circle cx="58.5" cy="284.6" r="3.5" fill="#cdcdcd" stroke="#c0c0c0" stroke-width="1.9"/>
<circle cx="83.4" cy="282.0" r="3.5" fill="#cdcdcd" stroke="#b8b8b8" stroke-width="1.9"/>
<circle cx="22.0" cy="330.7" r="3.5" fill="#cdcdcd" stroke="#aeb2b2" stroke-width="1.9"/>
<circle cx="22.0" cy="295.5" r="3.5" fill="#cdcdcd" stroke="#b2b2b2" stroke-width="1.9"/>
<circle cx="10.2" cy="363.4" r="3.5" fill="#cdcdcd" stroke="#aeb2b2" stroke-width="1.9"/>
<circle cx="48.4" cy="325.3" r="3.5" fill="#cdcdcd" stroke="#aeb2b2" stroke-width="1.9"/>
<circle cx="41.3" cy="277.0" r="3.5" fill="#cdcdcd" stroke="#c0c0c0" stroke-width="1.9"/>
<circle cx="138.4" cy="348.0" r="3.5" fill="#cdcdcd" stroke="#b8b8b8" stroke-width="1.9"/>
<circle cx="52.1" cy="275.9" r="3.5" fill="#cdcdcd" stroke="#aeb2b2" stroke-width="1.9"/>
<circle cx="112.5" cy="364.2" r="3.5" fill="#cdcdcd" stroke="#b2b2b2" stroke-width="1.9"/>
<circle cx="59.4" cy="314.9" r="3.5" fill="#cdcdcd" stroke="#bcbcbc" stroke-width="1.9"/>
<circle cx="7.1" cy="324.8" r="3.5" fill="#cdcdcd" stroke="#b2b2b2" stroke-width="1.9"/>
<circle cx="16.7" cy="317.8" r="3.5" fill="#cdcdcd" stroke="#bcbcbc" stroke-width="1.9"/>
<circle cx="45.0" cy="289.1" r="3.5" fill="#cdcdcd" stroke="#aeb2b2" stroke-width="1.9"/>
<circle cx="136.4" cy="270.8" r="3.5" fill="#cdcdcd" stroke="#bcbcbc" stroke-width="1.9"/>
<circle cx="127.9" cy="377.8" r="3.5" fill="#cdcdcd" stroke="#c0c0c0" stroke-width="1.9"/>
<circle cx="75.8" cy="310.6" r="3.5" fill="#cdcdcd" stroke="#bcbcbc" stroke-width="1.9"/>
<circle cx="33.5" cy="328.4" r="3.5" fill="#cdcdcd" stroke="#b2b2b2" stroke-width="1.9"/>
<circle cx="8.7" cy="310.1" r="3.5" fill="#cdcdcd" stroke="#b2b2b2" stroke-width="1.9"/>
<circle cx="129.8" cy="364.9" r="3.5" fill="#cdcdcd" stroke="#bcbcbc" stroke-width="1.9"/>
<circle cx="4.3" cy="351.8" r="3.5" fill="#cdcdcd" stroke="#c0c0c0" stroke-width="1.9"/>
<circle cx="13.1" cy="339.2" r="3.5" fill="#cdcdcd" stroke="#b2b2b2" stroke-width="1.9"/>
<circle cx="10.4" cy="376.7" r="3.5" fill="#cdcdcd" stroke="#b8b8b8" stroke-width="1.9"/>
<circle cx="60.0" cy="301.6" r="3.5" fill="#cdcdcd" stroke="#b2b2b2" stroke-width="1.9"/>
<circle cx="8.7" cy="284.4" r="3.5" fill="#cdcdcd" stroke="#b2b2b2" stroke-width="1.9"/>
<circle cx="21.9" cy="262.5" r="3.5" fill="#cdcdcd" stroke="#c0c0c0" stroke-width="1.9"/>
<circle cx="132.0" cy="318.9" r="3.5" fill="#cdcdcd" stroke="#b8b8b8" stroke-width="1.9"/>
<circle cx="108.7" cy="275.7" r="3.5" fill="#cdcdcd" stroke="#b8b8b8" stroke-width="1.9"/>
<circle cx="103.7" cy="340.6" r="3.5" fill="#cdcdcd" stroke="#aeb2b2" stroke-width="1.9"/>
<circle cx="98.5" cy="317.0" r="3.5" fill="#cdcdcd" stroke="#bcbcbc" stroke-width="1.9"/>
<circle cx="19.1" cy="356.0" r="3.5" fill="#cdcdcd" stroke="#b8b8b8" stroke-width="1.9"/>
<circle cx="33.5" cy="267.0" r="3.5" fill="#cdcdcd" stroke="#b2b2b2" stroke-width="1.9"/>
<circle cx="109.7" cy="331.5" r="3.5" fill="#cdcdcd" stroke="#aeb2b2" stroke-width="1.9"/>
<circle cx="143.7" cy="302.6" r="3.5" fill="#cdcdcd" stroke="#c0c0c0" stroke-width="1.9"/>
<circle cx="77.1" cy="358.6" r="3.5" fill="#cdcdcd" stroke="#b8b8b8" stroke-width="1.9"/>
<circle cx="141.3" cy="288.2" r="3.5" fill="#cdcdcd" stroke="#b8b8b8" stroke-width="1.9"/>
<circle cx="78.3" cy="347.6" r="3.5" fill="#cdcdcd" stroke="#b2b2b2" stroke-width="1.9"/>
<circle cx="112.1" cy="350.8" r="3.5" fill="#cdcdcd" stroke="#c0c0c0" stroke-width="1.9"/>
<circle cx="83.6" cy="368.9" r="3.5" fill="#cdcdcd" stroke="#c0c0c0" stroke-width="1.9"/>
<circle cx="103.5" cy="307.1" r="3.5" fill="#cdcdcd" stroke="#b8b8b8" stroke-width="1.9"/>
<circle cx="93.4" cy="344.2" r="3.5" fill="#cdcdcd" stroke="#b2b2b2" stroke-width="1.9"/>
<circle cx="119.8" cy="325.7" r="3.5" fill="#cdcdcd" stroke="#b2b2b2" stroke-width="1.9"/>
<circle cx="59.7" cy="331.2" r="3.5" fill="#cdcdcd" stroke="#b8b8b8" stroke-width="1.9"/>
<circle cx="109.0" cy="287.7" r="3.5" fill="#cdcdcd" stroke="#bcbcbc" stroke-width="1.9"/>
<circle cx="29.2" cy="343.2" r="3.5" fill="#cdcdcd" stroke="#bcbcbc" stroke-width="1.9"/>
<circle cx="77.8" cy="261.8" r="3.5" fill="#cdcdcd" stroke="#b2b2b2" stroke-width="1.9"/>
<circle cx="98.6" cy="279.0" r="3.5" fill="#cdcdcd" stroke="#b8b8b8" stroke-width="1.9"/>
<circle cx="72.6" cy="295.3" r="3.5" fill="#cdcdcd" stroke="#b2b2b2" stroke-width="1.9"/>
<circle cx="45.4" cy="343.8" r="3.5" fill="#cdcdcd" stroke="#bcbcbc" stroke-width="1.9"/>
<circle cx="143.0" cy="330.3" r="3.5" fill="#cdcdcd" stroke="#bcbcbc" stroke-width="1.9"/>
<circle cx="72.9" cy="281.1" r="3.5" fill="#cdcdcd" stroke="#bcbcbc" stroke-width="1.9"/>
<circle cx="77.2" cy="272.0" r="3.5" fill="#cdcdcd" stroke="#b2b2b2" stroke-width="1.9"/>
<circle cx="48.0" cy="262.3" r="3.5" fill="#cdcdcd" stroke="#b2b2b2" stroke-width="1.9"/>
<circle cx="29.6" cy="360.1" r="3.5" fill="#cdcdcd" stroke="#bcbcbc" stroke-width="1.9"/>
<circle cx="122.5" cy="350.6" r="3.5" fill="#cdcdcd" stroke="#b2b2b2" stroke-width="1.9"/>
<circle cx="131.2" cy="301.9" r="3.5" fill="#cdcdcd" stroke="#aeb2b2" stroke-width="1.9"/>
<circle cx="108.3" cy="374.2" r="3.5" fill="#cdcdcd" stroke="#bcbcbc" stroke-width="1.9"/>
<circle cx="24.2" cy="309.6" r="3.5" fill="#cdcdcd" stroke="#b2b2b2" stroke-width="1.9"/>
<circle cx="102.7" cy="361.5" r="3.5" fill="#cdcdcd" stroke="#b8b8b8" stroke-width="1.9"/>
<circle cx="90.3" cy="262.1" r="3.5" fill="#cdcdcd" stroke="#b8b8b8" stroke-width="1.9"/>
<circle cx="6.6" cy="271.6" r="3.5" fill="#cdcdcd" stroke="#aeb2b2" stroke-width="1.9"/>
<circle cx="130.9" cy="341.2" r="3.5" fill="#cdcdcd" stroke="#b8b8b8" stroke-width="1.9"/>
<circle cx="100.9" cy="264.9" r="3.5" fill="#cdcdcd" stroke="#b2b2b2" stroke-width="1.9"/>
<circle cx="40.0" cy="377.3" r="3.5" fill="#cdcdcd" stroke="#bcbcbc" stroke-width="1.9"/>
<circle cx="68.8" cy="324.2" r="3.5" fill="#cdcdcd" stroke="#bcbcbc" stroke-width="1.9"/>
<circle cx="143.6" cy="357.2" r="3.5" fill="#cdcdcd" stroke="#aeb2b2" stroke-width="1.9"/>
<circle cx="92.0" cy="306.7" r="3.5" fill="#cdcdcd" stroke="#aeb2b2" stroke-width="1.9"/>
<circle cx="86.1" cy="293.3" r="3.5" fill="#cdcdcd" stroke="#aeb2b2" stroke-width="1.9"/>
<circle cx="46.0" cy="357.1" r="3.5" fill="#cdcdcd" stroke="#c0c0c0" stroke-width="1.9"/>
<circle cx="21.8" cy="370.9" r="3.5" fill="#cdcdcd" stroke="#bcbcbc" stroke-width="1.9"/>
<circle cx="67.6" cy="370.2" r="3.5" fill="#cdcdcd" stroke="#bcbcbc" stroke-width="1.9"/>
<circle cx="10.7" cy="298.4" r="3.5" fill="#cdcdcd" stroke="#c0c0c0" stroke-width="1.9"/>
<circle cx="142.0" cy="313.3" r="3.5" fill="#cdcdcd" stroke="#aeb2b2" stroke-width="1.9"/>
<circle cx="109.8" cy="319.0" r="3.5" fill="#cdcdcd" stroke="#b8b8b8" stroke-width="1.9"/>
<circle cx="137.9" cy="378.9" r="3.5" fill="#cdcdcd" stroke="#aeb2b2" stroke-width="1.9"/>
<circle cx="49.9" cy="311.5" r="3.5" fill="#cdcdcd" stroke="#b2b2b2" stroke-width="1.9"/>
<circle cx="88.4" cy="358.7" r="3.5" fill="#cdcdcd" stroke="#c0c0c0" stroke-width="1.9"/>
<circle cx="56.1" cy="378.6" r="3.5" fill="#cdcdcd" stroke="#c0c0c0" stroke-width="1.9"/>
<circle cx="31.9" cy="370.4" r="3.5" fill="#cdcdcd" stroke="#bcbcbc" stroke-width="1.9"/>
<circle cx="97.2" cy="291.3" r="3.5" fill="#cdcdcd" stroke="#aeb2b2" stroke-width="1.9"/>
<circle cx="87.9" cy="317.7" r="3.5" fill="#cdcdcd" stroke="#b2b2b2" stroke-width="1.9"/>
<circle cx="114.9" cy="265.7" r="3.5" fill="#cdcdcd" stroke="#b8b8b8" stroke-width="1.9"/>
<circle cx="75.1" cy="378.7" r="3.5" fill="#cdcdcd" stroke="#bcbcbc" stroke-width="1.9"/>
<circle cx="117.2" cy="339.5" r="3.5" fill="#cdcdcd" stroke="#b2b2b2" stroke-width="1.9"/>
<circle cx="126.4" cy="273.3" r="3.5" fill="#cdcdcd" stroke="#b8b8b8" stroke-width="1.9"/>
<circle cx="38.8" cy="299.1" r="3.5" fill="#cdcdcd" stroke="#b2b2b2" stroke-width="1.9"/>
<circle cx="66.8" cy="338.4" r="3.5" fill="#cdcdcd" stroke="#bcbcbc" stroke-width="1.9"/>
<circle cx="34.0" cy="287.0" r="3.5" fill="#cdcdcd" stroke="#aeb2b2" stroke-width="1.9"/>
<circle cx="145.2" cy="261.7" r="3.5" fill="#cdcdcd" stroke="#c0c0c0" stroke-width="1.9"/>
<circle cx="99.2" cy="328.5" r="3.5" fill="#cdcdcd" stroke="#c0c0c0" stroke-width="1.9"/>
<circle cx="128.0" cy="260.7" r="3.5" fill="#cdcdcd" stroke="#b2b2b2" stroke-width="1.9"/>
<circle cx="4.3" cy="261.5" r="3.5" fill="#cdcdcd" stroke="#aeb2b2" stroke-width="1.9"/>
<circle cx="49.4" cy="300.6" r="3.5" fill="#cdcdcd" stroke="#bcbcbc" stroke-width="1.9"/>
<circle cx="133.2" cy="281.7" r="3.5" fill="#cdcdcd" stroke="#c0c0c0" stroke-width="1.9"/>
<circle cx="146.3" cy="274.7" r="3.5" fill="#cdcdcd" stroke="#bcbcbc" stroke-width="1.9"/>
<circle cx="44.4" cy="367.8" r="3.5" fill="#cdcdcd" stroke="#b2b2b2" stroke-width="1.9"/>
<circle cx="25.1" cy="273.7" r="3.5" fill="#cdcdcd" stroke="#b8b8b8" stroke-width="1.9"/>
<circle cx="106.0" cy="297.3" r="3.5" fill="#cdcdcd" stroke="#c0c0c0" stroke-width="1.9"/>
<circle cx="37.5" cy="349.9" r="3.5" fill="#cdcdcd" stroke="#b2b2b2" stroke-width="1.9"/>
<circle cx="82.6" cy="302.7" r="3.5" fill="#cdcdcd" stroke="#b8b8b8" stroke-width="1.9"/>
<circle cx="123.4" cy="313.7" r="3.5" fill="#cdcdcd" stroke="#c0c0c0" stroke-width="1.9"/>
<circle cx="66.8" cy="358.1" r="3.5" fill="#cdcdcd" stroke="#b2b2b2" stroke-width="1.9"/>
<circle cx="146.1" cy="370.1" r="3.5" fill="#cdcdcd" stroke="#bcbcbc" stroke-width="1.9"/>
<circle cx="59.3" cy="260.6" r="3.5" fill="#cdcdcd" stroke="#bcbcbc" stroke-width="1.9"/>
<circle cx="94.0" cy="368.4" r="3.5" fill="#cdcdcd" stroke="#aeb2b2" stroke-width="1.9"/>
<circle cx="119.5" cy="371.7" r="3.5" fill="#cdcdcd" stroke="#bcbcbc" stroke-width="1.9"/>
<circle cx="87.6" cy="272.2" r="3.5" fill="#cdcdcd" stroke="#bcbcbc" stroke-width="1.9"/>
<circle cx="31.1" cy="286.2" r="0.8" fill="#7a70b8" opacity="0.8"/>
<circle cx="32.5" cy="284.8" r="0.6" fill="#8a80c0" opacity="0.7"/>
<circle cx="27.9" cy="285.6" r="3.3" fill="#f4c6c0"/>
<ellipse cx="27.9" cy="285.6" rx="2.0" ry="1.45" fill="#b81c2a"/>
<circle cx="41.0" cy="284.3" r="0.8" fill="#7a70b8" opacity="0.8"/>
<circle cx="42.4" cy="282.9" r="0.6" fill="#8a80c0" opacity="0.7"/>
<circle cx="37.8" cy="283.7" r="3.3" fill="#f4c6c0"/>
<ellipse cx="37.8" cy="283.7" rx="2.0" ry="1.45" fill="#b81c2a"/>
<circle cx="62.1" cy="280.8" r="0.8" fill="#7a70b8" opacity="0.8"/>
<circle cx="63.5" cy="279.4" r="0.6" fill="#8a80c0" opacity="0.7"/>
<circle cx="58.9" cy="280.2" r="3.3" fill="#f4c6c0"/>
<ellipse cx="58.9" cy="280.2" rx="2.0" ry="1.45" fill="#b81c2a"/>
<circle cx="93.8" cy="276.8" r="0.8" fill="#7a70b8" opacity="0.8"/>
<circle cx="95.2" cy="275.4" r="0.6" fill="#8a80c0" opacity="0.7"/>
<circle cx="90.6" cy="276.2" r="3.3" fill="#f4c6c0"/>
<ellipse cx="90.6" cy="276.2" rx="2.0" ry="1.45" fill="#b81c2a"/>
<circle cx="123.4" cy="287.5" r="0.8" fill="#7a70b8" opacity="0.8"/>
<circle cx="124.8" cy="286.1" r="0.6" fill="#8a80c0" opacity="0.7"/>
<circle cx="120.2" cy="286.9" r="3.3" fill="#f4c6c0"/>
<ellipse cx="120.2" cy="286.9" rx="2.0" ry="1.45" fill="#b81c2a"/>
<circle cx="45.9" cy="311.8" r="0.8" fill="#7a70b8" opacity="0.8"/>
<circle cx="47.3" cy="310.4" r="0.6" fill="#8a80c0" opacity="0.7"/>
<circle cx="42.7" cy="311.2" r="3.3" fill="#f4c6c0"/>
<ellipse cx="42.7" cy="311.2" rx="2.0" ry="1.45" fill="#b81c2a"/>
<circle cx="31.1" cy="326.6" r="0.8" fill="#7a70b8" opacity="0.8"/>
<circle cx="32.5" cy="325.2" r="0.6" fill="#8a80c0" opacity="0.7"/>
<circle cx="27.9" cy="326.0" r="3.3" fill="#f4c6c0"/>
<ellipse cx="27.9" cy="326.0" rx="2.0" ry="1.45" fill="#b81c2a"/>
<circle cx="42.7" cy="328.5" r="0.8" fill="#7a70b8" opacity="0.8"/>
<circle cx="44.1" cy="327.1" r="0.6" fill="#8a80c0" opacity="0.7"/>
<circle cx="39.5" cy="327.9" r="3.3" fill="#f4c6c0"/>
<ellipse cx="39.5" cy="327.9" rx="2.0" ry="1.45" fill="#b81c2a"/>
<circle cx="17.6" cy="333.3" r="0.8" fill="#7a70b8" opacity="0.8"/>
<circle cx="19.0" cy="331.9" r="0.6" fill="#8a80c0" opacity="0.7"/>
<circle cx="14.4" cy="332.7" r="3.3" fill="#f4c6c0"/>
<ellipse cx="14.4" cy="332.7" rx="2.0" ry="1.45" fill="#b81c2a"/>
<circle cx="98.4" cy="317.1" r="0.8" fill="#7a70b8" opacity="0.8"/>
<circle cx="99.8" cy="315.7" r="0.6" fill="#8a80c0" opacity="0.7"/>
<circle cx="95.2" cy="316.5" r="3.3" fill="#f4c6c0"/>
<ellipse cx="95.2" cy="316.5" rx="2.0" ry="1.45" fill="#b81c2a"/>
<circle cx="110.0" cy="315.8" r="0.8" fill="#7a70b8" opacity="0.8"/>
<circle cx="111.4" cy="314.4" r="0.6" fill="#8a80c0" opacity="0.7"/>
<circle cx="106.8" cy="315.2" r="3.3" fill="#f4c6c0"/>
<ellipse cx="106.8" cy="315.2" rx="2.0" ry="1.45" fill="#b81c2a"/>
<circle cx="91.1" cy="333.3" r="0.8" fill="#7a70b8" opacity="0.8"/>
<circle cx="92.5" cy="331.9" r="0.6" fill="#8a80c0" opacity="0.7"/>
<circle cx="87.9" cy="332.7" r="3.3" fill="#f4c6c0"/>
<ellipse cx="87.9" cy="332.7" rx="2.0" ry="1.45" fill="#b81c2a"/>
<circle cx="113.2" cy="331.1" r="0.8" fill="#7a70b8" opacity="0.8"/>
<circle cx="114.6" cy="329.7" r="0.6" fill="#8a80c0" opacity="0.7"/>
<circle cx="110.0" cy="330.5" r="3.3" fill="#f4c6c0"/>
<ellipse cx="110.0" cy="330.5" rx="2.0" ry="1.45" fill="#b81c2a"/>
<circle cx="101.9" cy="345.4" r="0.8" fill="#7a70b8" opacity="0.8"/>
<circle cx="103.3" cy="344.0" r="0.6" fill="#8a80c0" opacity="0.7"/>
<circle cx="98.7" cy="344.8" r="3.3" fill="#f4c6c0"/>
<ellipse cx="98.7" cy="344.8" rx="2.0" ry="1.45" fill="#b81c2a"/>
<circle cx="115.4" cy="356.2" r="0.8" fill="#7a70b8" opacity="0.8"/>
<circle cx="116.8" cy="354.8" r="0.6" fill="#8a80c0" opacity="0.7"/>
<circle cx="112.2" cy="355.6" r="3.3" fill="#f4c6c0"/>
<ellipse cx="112.2" cy="355.6" rx="2.0" ry="1.45" fill="#b81c2a"/>
<circle cx="29.7" cy="365.6" r="0.8" fill="#7a70b8" opacity="0.8"/>
<circle cx="31.1" cy="364.2" r="0.6" fill="#8a80c0" opacity="0.7"/>
<circle cx="26.5" cy="365.0" r="3.3" fill="#f4c6c0"/>
<ellipse cx="26.5" cy="365.0" rx="2.0" ry="1.45" fill="#b81c2a"/>
<circle cx="44.5" cy="362.9" r="0.8" fill="#7a70b8" opacity="0.8"/>
<circle cx="45.9" cy="361.5" r="0.6" fill="#8a80c0" opacity="0.7"/>
<circle cx="41.3" cy="362.3" r="3.3" fill="#f4c6c0"/>
<ellipse cx="41.3" cy="362.3" rx="2.0" ry="1.45" fill="#b81c2a"/>
<circle cx="50.7" cy="359.7" r="0.8" fill="#7a70b8" opacity="0.8"/>
<circle cx="52.1" cy="358.3" r="0.6" fill="#8a80c0" opacity="0.7"/>
<circle cx="47.5" cy="359.1" r="3.3" fill="#f4c6c0"/>
<ellipse cx="47.5" cy="359.1" rx="2.0" ry="1.45" fill="#b81c2a"/>
<circle cx="65.3" cy="370.5" r="0.8" fill="#7a70b8" opacity="0.8"/>
<circle cx="66.7" cy="369.1" r="0.6" fill="#8a80c0" opacity="0.7"/>
<circle cx="62.1" cy="369.9" r="3.3" fill="#f4c6c0"/>
<ellipse cx="62.1" cy="369.9" rx="2.0" ry="1.45" fill="#b81c2a"/>
<circle cx="131.5" cy="367.8" r="0.8" fill="#7a70b8" opacity="0.8"/>
<circle cx="132.9" cy="366.4" r="0.6" fill="#8a80c0" opacity="0.7"/>
<circle cx="128.3" cy="367.2" r="3.3" fill="#f4c6c0"/>
<ellipse cx="128.3" cy="367.2" rx="2.0" ry="1.45" fill="#b81c2a"/>
</g>
<rect x="8.5" y="264.5" width="16.5" height="22.5" fill="#ffffff"/>
</g>
<rect x="8.5" y="264.5" width="133.5" height="110" fill="none" stroke="#9790b6" stroke-width="1.1"/>
<rect x="10" y="369.7" width="26.3" height="1.8" fill="#000"/>
<use href="#monkey" transform="translate(8.8,267.2) scale(0.9,0.96)"/>
<clipPath id="c6"><rect x="146" y="264" width="134" height="111"/></clipPath>
<g clip-path="url(#c6)">
<g filter="url(#soft)">
<rect x="146" y="264" width="134" height="111" fill="#dedee0"/>
<ellipse cx="257.5" cy="278.9" rx="5.4" ry="5.0" fill="#c4c4c6" opacity="0.92"/>
<ellipse cx="228.8" cy="340.7" rx="5.4" ry="5.0" fill="#c2c2ca" opacity="0.92"/>
<ellipse cx="186.5" cy="361.7" rx="5.4" ry="5.0" fill="#c8c8ca" opacity="0.92"/>
<ellipse cx="254.7" cy="370.4" rx="5.4" ry="5.0" fill="#c4c4c6" opacity="0.92"/>
<ellipse cx="171.5" cy="285.1" rx="5.4" ry="5.0" fill="#c8c8ca" opacity="0.92"/>
<ellipse cx="219.8" cy="378.9" rx="5.4" ry="5.0" fill="#c0c0c6" opacity="0.92"/>
<ellipse cx="251.4" cy="260.2" rx="5.4" ry="5.0" fill="#cbcbcd" opacity="0.92"/>
<ellipse cx="283.6" cy="344.1" rx="5.4" ry="5.0" fill="#c0c0c6" opacity="0.92"/>
<ellipse cx="220.7" cy="282.0" rx="5.4" ry="5.0" fill="#c2c2ca" opacity="0.92"/>
<ellipse cx="268.2" cy="291.8" rx="5.4" ry="5.0" fill="#cbcbcd" opacity="0.92"/>
<ellipse cx="277.2" cy="327.8" rx="5.4" ry="5.0" fill="#cbcbcd" opacity="0.92"/>
<ellipse cx="254.9" cy="320.5" rx="5.4" ry="5.0" fill="#c2c2ca" opacity="0.92"/>
<ellipse cx="252.9" cy="336.2" rx="5.4" ry="5.0" fill="#c8c8ca" opacity="0.92"/>
<ellipse cx="156.3" cy="372.1" rx="5.4" ry="5.0" fill="#c4c4c6" opacity="0.92"/>
<ellipse cx="175.4" cy="344.9" rx="5.4" ry="5.0" fill="#cbcbcd" opacity="0.92"/>
<ellipse cx="214.1" cy="337.1" rx="5.4" ry="5.0" fill="#c2c2ca" opacity="0.92"/>
<ellipse cx="168.4" cy="327.1" rx="5.4" ry="5.0" fill="#c8c8ca" opacity="0.92"/>
<ellipse cx="179.4" cy="370.9" rx="5.4" ry="5.0" fill="#c4c4c6" opacity="0.92"/>
<ellipse cx="281.3" cy="302.8" rx="5.4" ry="5.0" fill="#c8c8ca" opacity="0.92"/>
<ellipse cx="229.9" cy="321.8" rx="5.4" ry="5.0" fill="#c8c8ca" opacity="0.92"/>
<ellipse cx="184.7" cy="305.2" rx="5.4" ry="5.0" fill="#c4c4c6" opacity="0.92"/>
<ellipse cx="154.5" cy="274.7" rx="5.4" ry="5.0" fill="#cbcbcd" opacity="0.92"/>
<ellipse cx="232.7" cy="309.7" rx="5.4" ry="5.0" fill="#cbcbcd" opacity="0.92"/>
<ellipse cx="195.1" cy="315.3" rx="5.4" ry="5.0" fill="#c8c8ca" opacity="0.92"/>
<ellipse cx="195.2" cy="376.1" rx="5.4" ry="5.0" fill="#cbcbcd" opacity="0.92"/>
<ellipse cx="276.8" cy="270.5" rx="5.4" ry="5.0" fill="#cbcbcd" opacity="0.92"/>
<ellipse cx="179.1" cy="320.0" rx="5.4" ry="5.0" fill="#c8c8ca" opacity="0.92"/>
<ellipse cx="234.7" cy="283.3" rx="5.4" ry="5.0" fill="#c2c2ca" opacity="0.92"/>
<ellipse cx="194.6" cy="266.6" rx="5.4" ry="5.0" fill="#c2c2ca" opacity="0.92"/>
<ellipse cx="189.1" cy="291.6" rx="5.4" ry="5.0" fill="#c0c0c6" opacity="0.92"/>
<ellipse cx="282.1" cy="366.0" rx="5.4" ry="5.0" fill="#c4c4c6" opacity="0.92"/>
<ellipse cx="265.4" cy="350.8" rx="5.4" ry="5.0" fill="#cbcbcd" opacity="0.92"/>
<ellipse cx="146.5" cy="300.7" rx="5.4" ry="5.0" fill="#cbcbcd" opacity="0.92"/>
<ellipse cx="245.3" cy="270.8" rx="5.4" ry="5.0" fill="#c0c0c6" opacity="0.92"/>
<ellipse cx="237.7" cy="262.4" rx="5.4" ry="5.0" fill="#cbcbcd" opacity="0.92"/>
<ellipse cx="177.0" cy="274.1" rx="5.4" ry="5.0" fill="#c0c0c6" opacity="0.92"/>
<ellipse cx="153.4" cy="324.4" rx="5.4" ry="5.0" fill="#c4c4c6" opacity="0.92"/>
<ellipse cx="206.9" cy="282.9" rx="5.4" ry="5.0" fill="#c8c8ca" opacity="0.92"/>
<ellipse cx="169.5" cy="376.8" rx="5.4" ry="5.0" fill="#cbcbcd" opacity="0.92"/>
<ellipse cx="256.4" cy="303.0" rx="5.4" ry="5.0" fill="#cbcbcd" opacity="0.92"/>
<ellipse cx="230.0" cy="366.0" rx="5.4" ry="5.0" fill="#c8c8ca" opacity="0.92"/>
<ellipse cx="200.0" cy="361.0" rx="5.4" ry="5.0" fill="#c8c8ca" opacity="0.92"/>
<ellipse cx="142.4" cy="266.7" rx="5.4" ry="5.0" fill="#c4c4c6" opacity="0.92"/>
<ellipse cx="175.1" cy="295.8" rx="5.4" ry="5.0" fill="#c2c2ca" opacity="0.92"/>
<ellipse cx="242.2" cy="299.7" rx="5.4" ry="5.0" fill="#c4c4c6" opacity="0.92"/>
<ellipse cx="239.0" cy="336.6" rx="5.4" ry="5.0" fill="#c2c2ca" opacity="0.92"/>
<ellipse cx="246.4" cy="354.3" rx="5.4" ry="5.0" fill="#c4c4c6" opacity="0.92"/>
<ellipse cx="224.0" cy="261.6" rx="5.4" ry="5.0" fill="#cbcbcd" opacity="0.92"/>
<ellipse cx="200.3" cy="335.0" rx="5.4" ry="5.0" fill="#c8c8ca" opacity="0.92"/>
<ellipse cx="142.2" cy="351.5" rx="5.4" ry="5.0" fill="#c0c0c6" opacity="0.92"/>
<ellipse cx="225.0" cy="293.9" rx="5.4" ry="5.0" fill="#c8c8ca" opacity="0.92"/>
<ellipse cx="211.7" cy="316.0" rx="5.4" ry="5.0" fill="#cbcbcd" opacity="0.92"/>
<ellipse cx="211.7" cy="361.9" rx="5.4" ry="5.0" fill="#c4c4c6" opacity="0.92"/>
<ellipse cx="210.2" cy="260.9" rx="5.4" ry="5.0" fill="#c0c0c6" opacity="0.92"/>
<ellipse cx="143.4" cy="334.6" rx="5.4" ry="5.0" fill="#c2c2ca" opacity="0.92"/>
<ellipse cx="161.4" cy="260.5" rx="5.4" ry="5.0" fill="#c4c4c6" opacity="0.92"/>
<ellipse cx="274.6" cy="375.4" rx="5.4" ry="5.0" fill="#c2c2ca" opacity="0.92"/>
<ellipse cx="146.1" cy="287.3" rx="5.4" ry="5.0" fill="#c0c0c6" opacity="0.92"/>
<ellipse cx="169.3" cy="363.5" rx="5.4" ry="5.0" fill="#cbcbcd" opacity="0.92"/>
<ellipse cx="155.8" cy="343.7" rx="5.4" ry="5.0" fill="#cbcbcd" opacity="0.92"/>
<ellipse cx="143.6" cy="373.3" rx="5.4" ry="5.0" fill="#c8c8ca" opacity="0.92"/>
<ellipse cx="224.7" cy="351.0" rx="5.4" ry="5.0" fill="#c0c0c6" opacity="0.92"/>
<ellipse cx="191.5" cy="341.5" rx="5.4" ry="5.0" fill="#c2c2ca" opacity="0.92"/>
<ellipse cx="183.3" cy="260.2" rx="5.4" ry="5.0" fill="#cbcbcd" opacity="0.92"/>
<ellipse cx="280.6" cy="317.1" rx="5.4" ry="5.0" fill="#c0c0c6" opacity="0.92"/>
<ellipse cx="247.7" cy="286.1" rx="5.4" ry="5.0" fill="#cbcbcd" opacity="0.92"/>
<ellipse cx="207.3" cy="350.2" rx="5.4" ry="5.0" fill="#c4c4c6" opacity="0.92"/>
<ellipse cx="266.9" cy="337.4" rx="5.4" ry="5.0" fill="#c0c0c6" opacity="0.92"/>
<ellipse cx="262.5" cy="266.5" rx="5.4" ry="5.0" fill="#c8c8ca" opacity="0.92"/>
<ellipse cx="164.4" cy="302.0" rx="5.4" ry="5.0" fill="#c8c8ca" opacity="0.92"/>
<ellipse cx="203.3" cy="304.5" rx="5.4" ry="5.0" fill="#c8c8ca" opacity="0.92"/>
<ellipse cx="168.8" cy="312.1" rx="5.4" ry="5.0" fill="#c0c0c6" opacity="0.92"/>
<ellipse cx="214.8" cy="303.6" rx="5.4" ry="5.0" fill="#c4c4c6" opacity="0.92"/>
<ellipse cx="164.0" cy="353.8" rx="5.4" ry="5.0" fill="#cbcbcd" opacity="0.92"/>
<ellipse cx="166.5" cy="271.2" rx="5.4" ry="5.0" fill="#c2c2ca" opacity="0.92"/>
<ellipse cx="269.6" cy="312.8" rx="5.4" ry="5.0" fill="#c8c8ca" opacity="0.92"/>
<ellipse cx="237.4" cy="376.0" rx="5.4" ry="5.0" fill="#c4c4c6" opacity="0.92"/>
<ellipse cx="270.2" cy="279.6" rx="5.4" ry="5.0" fill="#c8c8ca" opacity="0.92"/>
<ellipse cx="266.4" cy="366.0" rx="5.4" ry="5.0" fill="#c4c4c6" opacity="0.92"/>
<ellipse cx="186.8" cy="330.8" rx="5.4" ry="5.0" fill="#c2c2ca" opacity="0.92"/>
<ellipse cx="157.1" cy="314.3" rx="5.4" ry="5.0" fill="#c4c4c6" opacity="0.92"/>
<ellipse cx="194.6" cy="281.3" rx="5.4" ry="5.0" fill="#c2c2ca" opacity="0.92"/>
<ellipse cx="213.3" cy="273.6" rx="5.4" ry="5.0" fill="#c8c8ca" opacity="0.92"/>
<ellipse cx="206.1" cy="376.5" rx="5.4" ry="5.0" fill="#c4c4c6" opacity="0.92"/>
<ellipse cx="229.0" cy="273.5" rx="5.4" ry="5.0" fill="#c8c8ca" opacity="0.92"/>
<ellipse cx="273.6" cy="260.1" rx="5.4" ry="5.0" fill="#c0c0c6" opacity="0.92"/>
<ellipse cx="283.8" cy="281.6" rx="5.4" ry="5.0" fill="#c0c0c6" opacity="0.92"/>
<ellipse cx="160.9" cy="288.8" rx="5.4" ry="5.0" fill="#c2c2ca" opacity="0.92"/>
<ellipse cx="241.6" cy="317.2" rx="5.4" ry="5.0" fill="#c0c0c6" opacity="0.92"/>
<ellipse cx="146.0" cy="313.4" rx="5.4" ry="5.0" fill="#c0c0c6" opacity="0.92"/>
<ellipse cx="256.6" cy="359.2" rx="5.4" ry="5.0" fill="#c4c4c6" opacity="0.92"/>
<ellipse cx="151.1" cy="360.1" rx="5.4" ry="5.0" fill="#cbcbcd" opacity="0.92"/>
<ellipse cx="240.9" cy="364.0" rx="5.4" ry="5.0" fill="#c0c0c6" opacity="0.92"/>
<ellipse cx="208.9" cy="293.9" rx="5.4" ry="5.0" fill="#c2c2ca" opacity="0.92"/>
<ellipse cx="276.5" cy="356.4" rx="5.4" ry="5.0" fill="#c2c2ca" opacity="0.92"/>
<ellipse cx="218.6" cy="325.9" rx="5.4" ry="5.0" fill="#cbcbcd" opacity="0.92"/>
<ellipse cx="245.3" cy="327.5" rx="5.4" ry="5.0" fill="#c2c2ca" opacity="0.92"/>
<ellipse cx="202.6" cy="323.2" rx="5.4" ry="5.0" fill="#c8c8ca" opacity="0.92"/>
<ellipse cx="235.1" cy="354.1" rx="5.4" ry="5.0" fill="#c2c2ca" opacity="0.92"/>
<circle cx="201.2" cy="280.0" r="0.8" fill="#7a70b8" opacity="0.8"/>
<circle cx="202.6" cy="278.6" r="0.6" fill="#8a80c0" opacity="0.7"/>
<circle cx="198.0" cy="279.4" r="3.3" fill="#f4c6c0"/>
<ellipse cx="198.0" cy="279.4" rx="2.0" ry="1.45" fill="#b81c2a"/>
<circle cx="225.4" cy="300.4" r="0.8" fill="#7a70b8" opacity="0.8"/>
<circle cx="226.8" cy="299.0" r="0.6" fill="#8a80c0" opacity="0.7"/>
<circle cx="222.2" cy="299.8" r="3.3" fill="#f4c6c0"/>
<ellipse cx="222.2" cy="299.8" rx="2.0" ry="1.45" fill="#b81c2a"/>
<circle cx="240.0" cy="308.5" r="0.8" fill="#7a70b8" opacity="0.8"/>
<circle cx="241.4" cy="307.1" r="0.6" fill="#8a80c0" opacity="0.7"/>
<circle cx="236.8" cy="307.9" r="3.3" fill="#f4c6c0"/>
<ellipse cx="236.8" cy="307.9" rx="2.0" ry="1.45" fill="#b81c2a"/>
<circle cx="228.7" cy="311.2" r="0.8" fill="#7a70b8" opacity="0.8"/>
<circle cx="230.1" cy="309.8" r="0.6" fill="#8a80c0" opacity="0.7"/>
<circle cx="225.5" cy="310.6" r="3.3" fill="#f4c6c0"/>
<ellipse cx="225.5" cy="310.6" rx="2.0" ry="1.45" fill="#b81c2a"/>
<circle cx="177.0" cy="313.1" r="0.8" fill="#7a70b8" opacity="0.8"/>
<circle cx="178.4" cy="311.7" r="0.6" fill="#8a80c0" opacity="0.7"/>
<circle cx="173.8" cy="312.5" r="3.3" fill="#f4c6c0"/>
<ellipse cx="173.8" cy="312.5" rx="2.0" ry="1.45" fill="#b81c2a"/>
<circle cx="207.1" cy="325.2" r="0.8" fill="#7a70b8" opacity="0.8"/>
<circle cx="208.5" cy="323.8" r="0.6" fill="#8a80c0" opacity="0.7"/>
<circle cx="203.9" cy="324.6" r="3.3" fill="#f4c6c0"/>
<ellipse cx="203.9" cy="324.6" rx="2.0" ry="1.45" fill="#b81c2a"/>
<circle cx="221.1" cy="332.8" r="0.8" fill="#7a70b8" opacity="0.8"/>
<circle cx="222.5" cy="331.4" r="0.6" fill="#8a80c0" opacity="0.7"/>
<circle cx="217.9" cy="332.2" r="3.3" fill="#f4c6c0"/>
<ellipse cx="217.9" cy="332.2" rx="2.0" ry="1.45" fill="#b81c2a"/>
<circle cx="163.5" cy="334.6" r="0.8" fill="#7a70b8" opacity="0.8"/>
<circle cx="164.9" cy="333.2" r="0.6" fill="#8a80c0" opacity="0.7"/>
<circle cx="160.3" cy="334.0" r="3.3" fill="#f4c6c0"/>
<ellipse cx="160.3" cy="334.0" rx="2.0" ry="1.45" fill="#b81c2a"/>
<circle cx="236.7" cy="354.3" r="0.8" fill="#7a70b8" opacity="0.8"/>
<circle cx="238.1" cy="352.9" r="0.6" fill="#8a80c0" opacity="0.7"/>
<circle cx="233.5" cy="353.7" r="3.3" fill="#f4c6c0"/>
<ellipse cx="233.5" cy="353.7" rx="2.0" ry="1.45" fill="#b81c2a"/>
<circle cx="228.7" cy="359.7" r="0.8" fill="#7a70b8" opacity="0.8"/>
<circle cx="230.1" cy="358.3" r="0.6" fill="#8a80c0" opacity="0.7"/>
<circle cx="225.5" cy="359.1" r="3.3" fill="#f4c6c0"/>
<ellipse cx="225.5" cy="359.1" rx="2.0" ry="1.45" fill="#b81c2a"/>
<circle cx="240.8" cy="365.1" r="0.8" fill="#7a70b8" opacity="0.8"/>
<circle cx="242.2" cy="363.7" r="0.6" fill="#8a80c0" opacity="0.7"/>
<circle cx="237.6" cy="364.5" r="3.3" fill="#f4c6c0"/>
<ellipse cx="237.6" cy="364.5" rx="2.0" ry="1.45" fill="#b81c2a"/>
</g>
<rect x="146.5" y="264.5" width="11" height="24.5" fill="#ffffff"/>
</g>
<rect x="146.5" y="264.5" width="133" height="110" fill="none" stroke="#9790b6" stroke-width="1.1"/>
<rect x="148" y="369.7" width="26.3" height="1.8" fill="#000"/>
<use href="#human" transform="translate(147.4,265.4) scale(0.93,1.0)"/>
<text x="300.4" y="18.5" font-size="11.6" fill="#000" font-weight="bold">B</text>
<line x1="334.6" y1="36.6" x2="334.6" y2="187.6" stroke="#000" stroke-width="1.2"/>
<line x1="331" y1="185.5" x2="334.6" y2="185.5" stroke="#000" stroke-width="1.0"/>
<text x="328.4" y="188.4" font-size="8" fill="#111" text-anchor="end" stroke="#111" stroke-width="0.22">0</text>
<line x1="332.8" y1="173.4" x2="334.6" y2="173.4" stroke="#000" stroke-width="1.0"/>
<line x1="331" y1="161.3" x2="334.6" y2="161.3" stroke="#000" stroke-width="1.0"/>
<text x="328.4" y="164.20000000000002" font-size="8" fill="#111" text-anchor="end" stroke="#111" stroke-width="0.22">2</text>
<line x1="332.8" y1="149.2" x2="334.6" y2="149.2" stroke="#000" stroke-width="1.0"/>
<line x1="331" y1="137.1" x2="334.6" y2="137.1" stroke="#000" stroke-width="1.0"/>
<text x="328.4" y="140.0" font-size="8" fill="#111" text-anchor="end" stroke="#111" stroke-width="0.22">4</text>
<line x1="332.8" y1="125.0" x2="334.6" y2="125.0" stroke="#000" stroke-width="1.0"/>
<line x1="331" y1="112.9" x2="334.6" y2="112.9" stroke="#000" stroke-width="1.0"/>
<text x="328.4" y="115.80000000000001" font-size="8" fill="#111" text-anchor="end" stroke="#111" stroke-width="0.22">6</text>
<line x1="332.8" y1="100.8" x2="334.6" y2="100.8" stroke="#000" stroke-width="1.0"/>
<line x1="331" y1="88.7" x2="334.6" y2="88.7" stroke="#000" stroke-width="1.0"/>
<text x="328.4" y="91.60000000000001" font-size="8" fill="#111" text-anchor="end" stroke="#111" stroke-width="0.22">8</text>
<line x1="332.8" y1="76.60000000000001" x2="334.6" y2="76.60000000000001" stroke="#000" stroke-width="1.0"/>
<line x1="331" y1="64.5" x2="334.6" y2="64.5" stroke="#000" stroke-width="1.0"/>
<text x="328.4" y="67.4" font-size="8" fill="#111" text-anchor="end" stroke="#111" stroke-width="0.22">10</text>
<line x1="332.8" y1="52.400000000000006" x2="334.6" y2="52.400000000000006" stroke="#000" stroke-width="1.0"/>
<line x1="331" y1="40.30000000000001" x2="334.6" y2="40.30000000000001" stroke="#000" stroke-width="1.0"/>
<text x="328.4" y="43.20000000000001" font-size="8" fill="#111" text-anchor="end" stroke="#111" stroke-width="0.22">12</text>
<text transform="translate(312.6,112.2) rotate(-90)" font-size="9.2" text-anchor="middle" fill="#111" stroke="#111" stroke-width="0.18" textLength="65.7" lengthAdjust="spacingAndGlyphs">Percent invasion</text>
<line x1="344.5" y1="195.9" x2="507" y2="195.9" stroke="#000" stroke-width="1.3"/>
<line x1="364.4" y1="195.9" x2="364.4" y2="198.8" stroke="#000" stroke-width="1.0"/>
<line x1="404.6" y1="195.9" x2="404.6" y2="198.8" stroke="#000" stroke-width="1.0"/>
<line x1="445.1" y1="195.9" x2="445.1" y2="198.8" stroke="#000" stroke-width="1.0"/>
<line x1="485.6" y1="195.9" x2="485.6" y2="198.8" stroke="#000" stroke-width="1.0"/>
<path d="M361.8,19 L361.8,15.3 L480.2,15.3 L480.2,19" fill="none" stroke="#000" stroke-width="1.1"/>
<path d="M361.8,33.7 L361.8,29.6 L432.6,29.6 L432.6,33.7" fill="none" stroke="#000" stroke-width="1.1"/>
<path d="M364.5,46.4 L364.5,42.4 L403.8,42.4 L403.8,46.4" fill="none" stroke="#000" stroke-width="1.1"/>
<circle cx="420.4" cy="10.1" r="0.95" fill="#111"/>
<circle cx="393.6" cy="24.6" r="0.95" fill="#111"/>
<circle cx="397.5" cy="24.6" r="0.95" fill="#111"/>
<circle cx="401.4" cy="24.6" r="0.95" fill="#111"/>
<text x="384.2" y="40.2" font-size="7.5" fill="#222" text-anchor="middle" stroke="#222" stroke-width="0.22">n.s</text>
<circle cx="364.6" cy="49.2" r="1.55" fill="#fff" stroke="#a5203f" stroke-width="1.05"/>
<circle cx="364.6" cy="62.6" r="1.55" fill="#fff" stroke="#a5203f" stroke-width="1.05"/>
<circle cx="362.3" cy="100.6" r="1.55" fill="#fff" stroke="#a5203f" stroke-width="1.05"/>
<circle cx="367.1" cy="104.6" r="1.55" fill="#fff" stroke="#a5203f" stroke-width="1.05"/>
<circle cx="362.1" cy="117.8" r="1.55" fill="#fff" stroke="#a5203f" stroke-width="1.05"/>
<circle cx="366.8" cy="115.1" r="1.55" fill="#fff" stroke="#a5203f" stroke-width="1.05"/>
<line x1="364.5" y1="69.9" x2="364.5" y2="110.3" stroke="#1a1a1a" stroke-width="1.4"/>
<line x1="357.5" y1="69.9" x2="371.5" y2="69.9" stroke="#1a1a1a" stroke-width="1.5"/>
<line x1="357.5" y1="110.3" x2="371.5" y2="110.3" stroke="#1a1a1a" stroke-width="1.5"/>
<line x1="351.2" y1="91.8" x2="377.8" y2="91.8" stroke="#1a1a1a" stroke-width="1.5"/>
<circle cx="364.5" cy="78.1" r="1.9" fill="#5e0c22"/>
<circle cx="364.5" cy="88.5" r="1.9" fill="#5e0c22"/>
<text x="375" y="91.3" font-size="8" fill="#333" textLength="16.2" lengthAdjust="spacingAndGlyphs" stroke="#333" stroke-width="0.22">7.7%</text>
<circle cx="402.5" cy="80.1" r="2.0" fill="#a3123a"/>
<circle cx="407.2" cy="78.4" r="2.0" fill="#a3123a"/>
<circle cx="402.5" cy="97.5" r="2.0" fill="#a3123a"/>
<circle cx="407.5" cy="97.5" r="2.0" fill="#a3123a"/>
<circle cx="402.5" cy="122.4" r="2.0" fill="#a3123a"/>
<circle cx="407.5" cy="122.4" r="2.0" fill="#a3123a"/>
<line x1="405.1" y1="87.8" x2="405.1" y2="116.4" stroke="#1a1a1a" stroke-width="1.4"/>
<line x1="398.40000000000003" y1="87.8" x2="411.8" y2="87.8" stroke="#1a1a1a" stroke-width="1.5"/>
<line x1="398.40000000000003" y1="116.4" x2="411.8" y2="116.4" stroke="#1a1a1a" stroke-width="1.5"/>
<line x1="391.8" y1="102.9" x2="418.40000000000003" y2="102.9" stroke="#1a1a1a" stroke-width="1.5"/>
<circle cx="405.1" cy="103" r="1.9" fill="#5e0c22"/>
<circle cx="405.1" cy="110" r="1.9" fill="#5e0c22"/>
<text x="417.2" y="101.2" font-size="8" fill="#333" textLength="17.6" lengthAdjust="spacingAndGlyphs" stroke="#333" stroke-width="0.22">6.8%</text>
<circle cx="433.5" cy="183.8" r="1.55" fill="#fff" stroke="#2c4a78" stroke-width="1.05"/>
<circle cx="437.5" cy="183.8" r="1.55" fill="#fff" stroke="#2c4a78" stroke-width="1.05"/>
<circle cx="441.5" cy="183.8" r="1.55" fill="#fff" stroke="#2c4a78" stroke-width="1.05"/>
<circle cx="445.5" cy="183.8" r="1.55" fill="#fff" stroke="#2c4a78" stroke-width="1.05"/>
<circle cx="449.5" cy="183.8" r="1.55" fill="#fff" stroke="#2c4a78" stroke-width="1.05"/>
<circle cx="453.5" cy="183.8" r="1.55" fill="#fff" stroke="#2c4a78" stroke-width="1.05"/>
<circle cx="457.3" cy="183.8" r="1.55" fill="#fff" stroke="#2c4a78" stroke-width="1.05"/>
<line x1="432" y1="183.8" x2="459" y2="183.8" stroke="#1d2e4e" stroke-width="1.1"/>
<text x="452.2" y="178.8" font-size="8" fill="#333" textLength="17.2" lengthAdjust="spacingAndGlyphs" stroke="#333" stroke-width="0.22">0.1%</text>
<circle cx="486.2" cy="92.5" r="2.0" fill="#2f5384"/>
<circle cx="486.2" cy="98.8" r="2.0" fill="#2f5384"/>
<circle cx="488.7" cy="138.8" r="2.0" fill="#2f5384"/>
<circle cx="483.7" cy="143.3" r="2.0" fill="#2f5384"/>
<line x1="486.2" y1="104.3" x2="486.2" y2="135.1" stroke="#1a1a1a" stroke-width="1.4"/>
<line x1="479.4" y1="104.3" x2="493.0" y2="104.3" stroke="#1a1a1a" stroke-width="1.5"/>
<line x1="479.4" y1="135.1" x2="493.0" y2="135.1" stroke="#1a1a1a" stroke-width="1.5"/>
<line x1="472.7" y1="121.3" x2="499.7" y2="121.3" stroke="#1a1a1a" stroke-width="1.5"/>
<circle cx="486.2" cy="106.3" r="1.9" fill="#1d2e4e"/>
<circle cx="484.2" cy="121.3" r="1.9" fill="#1d2e4e"/>
<circle cx="488.7" cy="121.3" r="1.9" fill="#1d2e4e"/>
<circle cx="485.8" cy="131.8" r="1.9" fill="#1d2e4e"/>
<text x="493.8" y="118.3" font-size="8" fill="#333" textLength="17.4" lengthAdjust="spacingAndGlyphs" stroke="#333" stroke-width="0.22">5.3%</text>
<use href="#monkey" transform="translate(356.2,202.8) scale(1.0,1.0)"/>
<use href="#monkey" transform="translate(396.4,202.8) scale(1.0,1.0)"/>
<use href="#human" transform="translate(440.1,199.7) scale(0.97,0.975)"/>
<use href="#human" transform="translate(480.6,199.7) scale(0.97,0.975)"/>
<text x="364.8" y="229" font-size="8.3" fill="#111" text-anchor="middle" textLength="44.5" lengthAdjust="spacingAndGlyphs" stroke="#111" stroke-width="0.22">Normocytes</text>
<text x="404" y="239.2" font-size="8.3" fill="#111" text-anchor="middle" textLength="47" lengthAdjust="spacingAndGlyphs" stroke="#111" stroke-width="0.22">Reticulocytes</text>
<text x="445.2" y="229" font-size="8.3" fill="#111" text-anchor="middle" textLength="44.5" lengthAdjust="spacingAndGlyphs" stroke="#111" stroke-width="0.22">Normocytes</text>
<text x="487" y="239.2" font-size="8.3" fill="#111" text-anchor="middle" textLength="48.7" lengthAdjust="spacingAndGlyphs" stroke="#111" stroke-width="0.22">Reticulocytes</text>
<text x="300.6" y="269.8" font-size="11.6" fill="#000" font-weight="bold">C</text>
<line x1="335.5" y1="272" x2="335.5" y2="368.8" stroke="#000" stroke-width="1.2"/>
<line x1="332.3" y1="367.5" x2="335.5" y2="367.5" stroke="#000" stroke-width="1.0"/>
<text x="328.0" y="370.4" font-size="8" fill="#111" text-anchor="end" stroke="#111" stroke-width="0.22">0</text>
<line x1="332.3" y1="352.0" x2="335.5" y2="352.0" stroke="#000" stroke-width="1.0"/>
<text x="328.0" y="354.9" font-size="8" fill="#111" text-anchor="end" stroke="#111" stroke-width="0.22">20</text>
<line x1="332.3" y1="336.5" x2="335.5" y2="336.5" stroke="#000" stroke-width="1.0"/>
<text x="328.0" y="339.4" font-size="8" fill="#111" text-anchor="end" stroke="#111" stroke-width="0.22">40</text>
<line x1="332.3" y1="321.0" x2="335.5" y2="321.0" stroke="#000" stroke-width="1.0"/>
<text x="328.0" y="323.9" font-size="8" fill="#111" text-anchor="end" stroke="#111" stroke-width="0.22">60</text>
<line x1="332.3" y1="305.5" x2="335.5" y2="305.5" stroke="#000" stroke-width="1.0"/>
<text x="328.0" y="308.4" font-size="8" fill="#111" text-anchor="end" stroke="#111" stroke-width="0.22">80</text>
<line x1="332.3" y1="290.0" x2="335.5" y2="290.0" stroke="#000" stroke-width="1.0"/>
<text x="328.0" y="292.9" font-size="8" fill="#111" text-anchor="end" stroke="#111" stroke-width="0.22">100</text>
<line x1="332.3" y1="274.5" x2="335.5" y2="274.5" stroke="#000" stroke-width="1.0"/>
<text x="328.0" y="277.4" font-size="8" fill="#111" text-anchor="end" stroke="#111" stroke-width="0.22">120</text>
<text transform="translate(309.4,320.8) rotate(-90)" font-size="9" text-anchor="middle" fill="#111" stroke="#111" stroke-width="0.18" textLength="47.4" lengthAdjust="spacingAndGlyphs">% inhibition</text>
<line x1="341.8" y1="375.6" x2="508" y2="375.6" stroke="#000" stroke-width="1.3"/>
<line x1="356.6" y1="361.765" x2="356.6" y2="354.325" stroke="#222" stroke-width="1.2"/>
<line x1="351.6" y1="354.325" x2="361.6" y2="354.325" stroke="#222" stroke-width="1.2"/>
<rect x="347" y="361.765" width="19.100000000000023" height="5.735000000000014" fill="#a9052c"/>
<line x1="378.5" y1="364.555" x2="378.5" y2="358.2775" stroke="#222" stroke-width="1.2"/>
<line x1="373.7" y1="358.2775" x2="383.3" y2="358.2775" stroke="#222" stroke-width="1.2"/>
<rect x="368.8" y="364.555" width="19.399999999999977" height="2.944999999999993" fill="#2f4d80"/>
<text x="356.9" y="351.1" font-size="8.2" fill="#222" text-anchor="middle" stroke="#222" stroke-width="0.22">7.4</text>
<text x="378.5" y="354.1" font-size="8.2" fill="#222" text-anchor="middle" stroke="#222" stroke-width="0.22">3.8</text>
<line x1="407.5" y1="319.76" x2="407.5" y2="294.2625" stroke="#222" stroke-width="1.2"/>
<line x1="402.5" y1="294.2625" x2="412.5" y2="294.2625" stroke="#222" stroke-width="1.2"/>
<rect x="398" y="319.76" width="19" height="47.74000000000001" fill="#a9052c"/>
<line x1="429.6" y1="314.645" x2="429.6" y2="285.195" stroke="#222" stroke-width="1.2"/>
<line x1="424.6" y1="285.195" x2="434.6" y2="285.195" stroke="#222" stroke-width="1.2"/>
<rect x="420" y="314.645" width="19.19999999999999" height="52.85500000000002" fill="#2f4d80"/>
<text x="407.8" y="291.6" font-size="8.2" fill="#222" text-anchor="middle" stroke="#222" stroke-width="0.22">61.6</text>
<text x="429.4" y="280.9" font-size="8.2" fill="#222" text-anchor="middle" stroke="#222" stroke-width="0.22">68.2</text>
<line x1="458.8" y1="360.1375" x2="458.8" y2="349.365" stroke="#222" stroke-width="1.2"/>
<line x1="453.8" y1="349.365" x2="463.8" y2="349.365" stroke="#222" stroke-width="1.2"/>
<rect x="449.2" y="360.1375" width="19.0" height="7.362500000000011" fill="#a9052c"/>
<line x1="479.6" y1="362.7725" x2="479.6" y2="353.1625" stroke="#222" stroke-width="1.2"/>
<line x1="474.6" y1="353.1625" x2="484.6" y2="353.1625" stroke="#222" stroke-width="1.2"/>
<rect x="470" y="362.7725" width="19.19999999999999" height="4.7275000000000205" fill="#2f4d80"/>
<text x="458.6" y="346.1" font-size="8.2" fill="#222" text-anchor="middle" stroke="#222" stroke-width="0.22">9.5</text>
<text x="479.4" y="349.9" font-size="8.2" fill="#222" text-anchor="middle" stroke="#222" stroke-width="0.22">6.1</text>
<rect x="463" y="275.8" width="10" height="6.8" fill="#a9052c"/>
<text x="476.2" y="282.4" font-size="8.3" fill="#111" textLength="29.3" lengthAdjust="spacingAndGlyphs" stroke="#111" stroke-width="0.22">Monkey</text>
<rect x="463" y="287.6" width="10" height="6.8" fill="#2f4d80"/>
<text x="476.2" y="294.0" font-size="8.3" fill="#111" textLength="26.8" lengthAdjust="spacingAndGlyphs" stroke="#111" stroke-width="0.22">Human</text>
<text transform="translate(371.6,382.2) rotate(-45)" font-size="9.2" text-anchor="end" fill="#111" stroke="#111" stroke-width="0.15">Trypsin</text>
<text transform="translate(422,382.4) rotate(-45)" font-size="8.5" text-anchor="end" fill="#111" stroke="#111" stroke-width="0.15">Chymotrypsin</text>
<text transform="translate(473.9,382.2) rotate(-45)" font-size="8.6" text-anchor="end" fill="#111" stroke="#111" stroke-width="0.15">Neuraminidase</text>
<text x="9.8" y="442.3" font-size="11.6" fill="#000" font-weight="bold">D</text>
<line x1="43.8" y1="449.5" x2="43.8" y2="547.5" stroke="#000" stroke-width="1.2"/>
<line x1="40.5" y1="546.25" x2="43.8" y2="546.25" stroke="#000" stroke-width="1.0"/>
<text x="36.5" y="549.15" font-size="8" fill="#111" text-anchor="end" stroke="#111" stroke-width="0.22">0</text>
<line x1="40.5" y1="530.5416666666666" x2="43.8" y2="530.5416666666666" stroke="#000" stroke-width="1.0"/>
<text x="36.5" y="533.4416666666666" font-size="8" fill="#111" text-anchor="end" stroke="#111" stroke-width="0.22">20</text>
<line x1="40.5" y1="514.8333333333334" x2="43.8" y2="514.8333333333334" stroke="#000" stroke-width="1.0"/>
<text x="36.5" y="517.7333333333333" font-size="8" fill="#111" text-anchor="end" stroke="#111" stroke-width="0.22">40</text>
<line x1="40.5" y1="499.125" x2="43.8" y2="499.125" stroke="#000" stroke-width="1.0"/>
<text x="36.5" y="502.025" font-size="8" fill="#111" text-anchor="end" stroke="#111" stroke-width="0.22">60</text>
<line x1="40.5" y1="483.4166666666667" x2="43.8" y2="483.4166666666667" stroke="#000" stroke-width="1.0"/>
<text x="36.5" y="486.31666666666666" font-size="8" fill="#111" text-anchor="end" stroke="#111" stroke-width="0.22">80</text>
<line x1="40.5" y1="467.7083333333333" x2="43.8" y2="467.7083333333333" stroke="#000" stroke-width="1.0"/>
<text x="36.5" y="470.6083333333333" font-size="8" fill="#111" text-anchor="end" stroke="#111" stroke-width="0.22">100</text>
<line x1="40.5" y1="452.0" x2="43.8" y2="452.0" stroke="#000" stroke-width="1.0"/>
<text x="36.5" y="454.9" font-size="8" fill="#111" text-anchor="end" stroke="#111" stroke-width="0.22">120</text>
<text transform="translate(17.9,499.4) rotate(-90)" font-size="9" text-anchor="middle" fill="#111" stroke="#111" stroke-width="0.18" textLength="46.3" lengthAdjust="spacingAndGlyphs">% inhibition</text>
<line x1="51.2" y1="555.4" x2="192" y2="555.4" stroke="#000" stroke-width="1.3"/>
<line x1="71.2" y1="507.0577083333333" x2="71.2" y2="481.61020833333333" stroke="#222" stroke-width="1.2"/>
<line x1="66.2" y1="481.61020833333333" x2="76.2" y2="481.61020833333333" stroke="#222" stroke-width="1.2"/>
<rect x="58" y="507.0577083333333" width="26.200000000000003" height="39.19229166666668" fill="#a9052c"/>
<line x1="101.2" y1="474.0702083333333" x2="101.2" y2="471.39979166666666" stroke="#222" stroke-width="1.2"/>
<line x1="96.60000000000001" y1="471.39979166666666" x2="105.8" y2="471.39979166666666" stroke="#222" stroke-width="1.2"/>
<rect x="87.6" y="474.0702083333333" width="26.900000000000006" height="72.17979166666669" fill="#2f4d80"/>
<text x="71.6" y="479.0" font-size="8.2" fill="#222" text-anchor="middle" stroke="#222" stroke-width="0.22">49.9</text>
<text x="101.2" y="468.5" font-size="8.2" fill="#222" text-anchor="middle" stroke="#222" stroke-width="0.22">91.9</text>
<line x1="147.9" y1="521.980625" x2="147.9" y2="489.3072916666667" stroke="#222" stroke-width="1.2"/>
<line x1="141.3" y1="489.3072916666667" x2="154.5" y2="489.3072916666667" stroke="#222" stroke-width="1.2"/>
<rect x="134.3" y="521.980625" width="27.0" height="24.269374999999968" fill="#a9052c"/>
<line x1="177.8" y1="491.50645833333334" x2="177.8" y2="485.69437500000004" stroke="#222" stroke-width="1.2"/>
<line x1="171.20000000000002" y1="485.69437500000004" x2="184.4" y2="485.69437500000004" stroke="#222" stroke-width="1.2"/>
<rect x="164.5" y="491.50645833333334" width="26.80000000000001" height="54.74354166666666" fill="#2f4d80"/>
<text x="147.8" y="485.8" font-size="8.2" fill="#222" text-anchor="middle" stroke="#222" stroke-width="0.22">30.9</text>
<text x="177.5" y="481.0" font-size="8.2" fill="#222" text-anchor="middle" stroke="#222" stroke-width="0.22">69.7</text>
<rect x="160" y="435.8" width="10" height="6.8" fill="#a9052c"/>
<text x="172.5" y="442.4" font-size="8.3" fill="#111" textLength="29.5" lengthAdjust="spacingAndGlyphs" stroke="#111" stroke-width="0.22">Monkey</text>
<rect x="160" y="448.3" width="10" height="6.8" fill="#2f4d80"/>
<text x="172.5" y="454.4" font-size="8.3" fill="#111" textLength="27" lengthAdjust="spacingAndGlyphs" stroke="#111" stroke-width="0.22">Human</text>
<text x="86.2" y="567.0" font-size="8.3" fill="#111" text-anchor="middle" stroke="#111" stroke-width="0.22">2C3</text>
<text x="162.8" y="567.0" font-size="8.3" fill="#111" text-anchor="middle" stroke="#111" stroke-width="0.22">FyB</text>
<text x="243.4" y="442.3" font-size="11.6" fill="#000" font-weight="bold">E</text>
<line x1="277.5" y1="453.3" x2="277.5" y2="546.2" stroke="#000" stroke-width="1.2"/>
<line x1="274.4" y1="545.0" x2="277.5" y2="545.0" stroke="#000" stroke-width="1.0"/>
<text x="271.0" y="547.9" font-size="8" fill="#111" text-anchor="end" stroke="#111" stroke-width="0.22">0</text>
<line x1="274.4" y1="506.875" x2="277.5" y2="506.875" stroke="#000" stroke-width="1.0"/>
<text x="271.0" y="509.775" font-size="8" fill="#111" text-anchor="end" stroke="#111" stroke-width="0.22">50</text>
<line x1="274.4" y1="468.75" x2="277.5" y2="468.75" stroke="#000" stroke-width="1.0"/>
<text x="271.0" y="471.65" font-size="8" fill="#111" text-anchor="end" stroke="#111" stroke-width="0.22">100</text>
<text transform="translate(251.9,499.4) rotate(-90)" font-size="9" text-anchor="middle" fill="#111" stroke="#111" stroke-width="0.18" textLength="47" lengthAdjust="spacingAndGlyphs">% inhibition</text>
<line x1="288.6" y1="555.4" x2="431" y2="555.4" stroke="#000" stroke-width="1.3"/>
<text x="311.4" y="567.0" font-size="8.3" fill="#111" text-anchor="middle" stroke="#111" stroke-width="0.22">2C3</text>
<text x="358.0" y="567.0" font-size="8.3" fill="#111" text-anchor="middle" stroke="#111" stroke-width="0.22">FyB</text>
<text x="404.2" y="567.0" font-size="8.3" fill="#111" text-anchor="middle" stroke="#111" stroke-width="0.22">IL-8</text>
<polygon points="306.90,464.80 307.95,467.16 310.51,467.43 308.60,469.15 309.13,471.67 306.90,470.39 304.67,471.67 305.20,469.15 303.29,467.43 305.85,467.16" fill="#2f5f52"/>
<polygon points="320.70,464.80 321.75,467.16 324.31,467.43 322.40,469.15 322.93,471.67 320.70,470.39 318.47,471.67 319.00,469.15 317.09,467.43 319.65,467.16" fill="#2f5f52"/>
<polygon points="316.30,472.80 317.35,475.16 319.91,475.43 318.00,477.15 318.53,479.67 316.30,478.39 314.07,479.67 314.60,477.15 312.69,475.43 315.25,475.16" fill="#2f5f52"/>
<rect x="304.7" y="477.2" width="4.4" height="4.4" fill="#72a654"/>
<path d="M306.9,488.90000000000003 L309.79999999999995,493.975 L304.0,493.975 Z" fill="#d8a049"/>
<path d="M316.0,496.5 L318.9,501.575 L313.1,501.575 Z" fill="#d8a049"/>
<path d="M302.2,503.29999999999995 L305.09999999999997,498.22499999999997 L299.3,498.22499999999997 Z" fill="#95183a"/>
<path d="M311.7,512.0 L314.59999999999997,506.925 L308.8,506.925 Z" fill="#95183a"/>
<circle cx="320.7" cy="505.0" r="2.3" fill="#4a2a5e"/>
<path d="M306.9,515.8 L309.4,511.42499999999995 L304.4,511.42499999999995 Z" fill="#fff" stroke="#8e8cc0" stroke-width="1.1"/>
<path d="M316.0,523.1 L318.5,518.725 L313.5,518.725 Z" fill="#fff" stroke="#8e8cc0" stroke-width="1.1"/>
<path d="M300.4,548.1999999999999 L303.29999999999995,543.125 L297.5,543.125 Z" fill="#95183a"/>
<circle cx="305.9" cy="545.3" r="1.9" fill="#fff" stroke="#2e5068" stroke-width="1.1"/>
<path d="M311.4,548.1999999999999 L314.29999999999995,543.125 L308.5,543.125 Z" fill="#95183a"/>
<path d="M317.2,548.1999999999999 L320.09999999999997,543.125 L314.3,543.125 Z" fill="#95183a"/>
<circle cx="322.8" cy="545.3" r="1.9" fill="#fff" stroke="#2e5068" stroke-width="1.1"/>
<path d="M357.9,473.6 L360.79999999999995,478.675 L355.0,478.675 Z" fill="#d8a049"/>
<path d="M357.9,491.9 L360.4,487.525 L355.4,487.525 Z" fill="#fff" stroke="#8e8cc0" stroke-width="1.1"/>
<path d="M362.7,516.0 L365.2,511.625 L360.2,511.625 Z" fill="#fff" stroke="#8e8cc0" stroke-width="1.1"/>
<path d="M353.1,524.6 L356.0,519.5250000000001 L350.20000000000005,519.5250000000001 Z" fill="#95183a"/>
<path d="M357.9,535.1999999999999 L360.79999999999995,530.125 L355.0,530.125 Z" fill="#95183a"/>
<circle cx="353.1" cy="545.2" r="1.9" fill="#fff" stroke="#2e5068" stroke-width="1.1"/>
<circle cx="362.7" cy="545.2" r="1.9" fill="#fff" stroke="#2e5068" stroke-width="1.1"/>
<rect x="404.7" y="493.0" width="4.4" height="4.4" fill="#72a654"/>
<polygon points="397.30,513.50 398.35,515.86 400.91,516.13 399.00,517.85 399.53,520.37 397.30,519.09 395.07,520.37 395.60,517.85 393.69,516.13 396.25,515.86" fill="#2f5f52"/>
<polygon points="402.50,518.90 403.55,521.26 406.11,521.53 404.20,523.25 404.73,525.77 402.50,524.49 400.27,525.77 400.80,523.25 398.89,521.53 401.45,521.26" fill="#2f5f52"/>
<path d="M411.5,519.1999999999999 L414.4,514.125 L408.6,514.125 Z" fill="#95183a"/>
<path d="M411.5,530.8 L414.4,525.725 L408.6,525.725 Z" fill="#95183a"/>
<path d="M402.5,547.3 L405.0,542.925 L400.0,542.925 Z" fill="#fff" stroke="#8e8cc0" stroke-width="1.1"/>
<path d="M411.5,547.3 L414.0,542.925 L409.0,542.925 Z" fill="#fff" stroke="#8e8cc0" stroke-width="1.1"/>
<use href="#monkey" transform="translate(452.4,454.0) scale(0.91,0.95)"/>
<circle cx="446.1" cy="476.7" r="2.3" fill="#4a2a5e"/>
<text x="453" y="479.5" font-size="8" fill="#111" stroke="#111" stroke-width="0.22">D1 WT</text>
<rect x="443.90000000000003" y="485.2" width="4.4" height="4.4" fill="#72a654"/>
<text x="453" y="490.2" font-size="8" fill="#111" stroke="#111" stroke-width="0.22">D2 WT</text>
<path d="M446.1,495.70000000000005 L449.0,500.77500000000003 L443.20000000000005,500.77500000000003 Z" fill="#d8a049"/>
<text x="453" y="501.1" font-size="8" fill="#111" stroke="#111" stroke-width="0.22">D3 Mutant</text>
<path d="M446.1,511.9 L449.0,506.825 L443.20000000000005,506.825 Z" fill="#95183a"/>
<text x="453" y="512.2" font-size="8" fill="#111" stroke="#111" stroke-width="0.22">D4 Mutant</text>
<polygon points="446.10,517.00 447.15,519.36 449.71,519.63 447.80,521.35 448.33,523.87 446.10,522.59 443.87,523.87 444.40,521.35 442.49,519.63 445.05,519.36" fill="#2f5f52"/>
<text x="453" y="523.6" font-size="8" fill="#111" stroke="#111" stroke-width="0.22">D5 Mutant</text>
<path d="M446.1,535.9 L448.6,531.525 L443.6,531.525 Z" fill="#fff" stroke="#8e8cc0" stroke-width="1.1"/>
<text x="453" y="536.4" font-size="8" fill="#111" stroke="#111" stroke-width="0.22">D6 Mutant</text>
<circle cx="446.1" cy="546.8" r="1.9" fill="#fff" stroke="#2e5068" stroke-width="1.1"/>
<text x="453" y="549.6" font-size="8" fill="#111" stroke="#111" stroke-width="0.22">D7 (ND)</text>
<text x="9.3" y="596.7" font-size="11.4" fill="#000" font-weight="bold">F</text>
<ellipse cx="101" cy="686.8" rx="41.5" ry="5.9" fill="#e6eaf2"/>
<ellipse cx="101" cy="703.0" rx="41.5" ry="5.9" fill="#e6eaf2"/>
<rect x="78" y="672.4" width="19.2" height="41.8" rx="2.6" fill="#5d89c9"/>
<rect x="113.8" y="672.4" width="19.2" height="41.8" rx="2.6" fill="#5d89c9"/>
<ellipse cx="106.6" cy="622.4" rx="5.6" ry="5.0" fill="#f9d48a" opacity="0.85"/>
<ellipse cx="86.6" cy="655.2" rx="5.4" ry="3.4" fill="#f7d26e"/>
<text x="37.9" y="594.3" font-size="5.6" fill="#111" font-weight="bold" textLength="12" lengthAdjust="spacingAndGlyphs">NH2</text>
<line x1="51.2" y1="592.3" x2="54.6" y2="592.3" stroke="#333" stroke-width="0.9"/>
<text x="58.1" y="594.3" font-size="5.6" fill="#444" text-anchor="middle" stroke="#444" stroke-width="0.25">M</text>
<text x="63.03" y="594.3" font-size="5.6" fill="#444" text-anchor="middle" stroke="#444" stroke-width="0.25">A</text>
<text x="67.96000000000001" y="594.3" font-size="5.6" fill="#444" text-anchor="middle" stroke="#444" stroke-width="0.25">S</text>
<text x="72.89" y="594.3" font-size="5.6" fill="#444" text-anchor="middle" stroke="#444" stroke-width="0.25">S</text>
<text x="77.82" y="594.3" font-size="5.6" fill="#444" text-anchor="middle" stroke="#444" stroke-width="0.25">G</text>
<text x="82.75" y="594.3" font-size="5.6" fill="#444" text-anchor="middle" stroke="#444" stroke-width="0.25">Y</text>
<text x="87.68" y="594.3" font-size="5.6" fill="#444" text-anchor="middle" stroke="#444" stroke-width="0.25">V</text>
<text x="92.61" y="594.3" font-size="5.6" fill="#444" text-anchor="middle" stroke="#444" stroke-width="0.25">L</text>
<text x="97.53999999999999" y="594.3" font-size="5.6" fill="#444" text-anchor="middle" stroke="#444" stroke-width="0.25">Q</text>
<text x="102.47" y="594.3" font-size="5.6" fill="#444" text-anchor="middle" stroke="#444" stroke-width="0.25">A</text>
<text x="107.4" y="594.3" font-size="5.6" fill="#444" text-anchor="middle" stroke="#444" stroke-width="0.25">E</text>
<text x="112.33" y="594.3" font-size="5.6" fill="#444" text-anchor="middle" stroke="#444" stroke-width="0.25">L</text>
<text x="117.25999999999999" y="594.3" font-size="5.6" fill="#444" text-anchor="middle" stroke="#444" stroke-width="0.25">S</text>
<text transform="translate(119.7,594.8) rotate(40)" font-size="5.2" text-anchor="middle" fill="#333" font-weight="bold" dy="0.36em">P</text>
<text transform="translate(123.1,597.8) rotate(50)" font-size="5.2" text-anchor="middle" fill="#333" font-weight="bold" dy="0.36em">S</text>
<text transform="translate(125.3,601.1) rotate(60)" font-size="5.0" text-anchor="middle" fill="#333" font-weight="bold" dy="0.36em">T</text>
<text transform="translate(127.5,604.9) rotate(65)" font-size="5.0" text-anchor="middle" fill="#333" font-weight="bold" dy="0.36em">E</text>
<text transform="translate(129.9,609.0) rotate(70)" font-size="5.6" text-anchor="middle" fill="#222" font-weight="bold" dy="0.36em">N</text>
<line x1="133.4" y1="608.8" x2="135.6" y2="608.8" stroke="#555" stroke-width="0.8"/>
<text transform="translate(140.2,608.6) rotate(0)" font-size="4.8" text-anchor="middle" fill="#555" dy="0.36em">Ch</text>
<text transform="translate(128.0,613.0) rotate(115)" font-size="5.2" text-anchor="middle" fill="#333" font-weight="bold" dy="0.36em">S</text>
<text transform="translate(126.4,616.9) rotate(125)" font-size="5.2" text-anchor="middle" fill="#333" font-weight="bold" dy="0.36em">S</text>
<text transform="translate(123.2,621.8) rotate(140)" font-size="5.8" text-anchor="middle" fill="#333" font-weight="bold" dy="0.36em">Q</text>
<text x="82.87197231833909" y="617.6" font-size="5.2" fill="#555" text-anchor="middle" stroke="#555" stroke-width="0.22">CHO</text>
<text transform="translate(54.5,625.4) rotate(-25)" font-size="6.0" text-anchor="middle" fill="#333" font-weight="bold" dy="0.36em">N</text>
<text transform="translate(58.8,623.6) rotate(0)" font-size="5.4" text-anchor="middle" fill="#555" dy="0.36em">V</text>
<text transform="translate(62.9,623.6) rotate(0)" font-size="5.4" text-anchor="middle" fill="#555" dy="0.36em">G</text>
<text transform="translate(67.0,623.6) rotate(0)" font-size="5.4" text-anchor="middle" fill="#555" dy="0.36em">Y</text>
<text transform="translate(71.0,623.6) rotate(0)" font-size="5.4" text-anchor="middle" fill="#555" dy="0.36em">S</text>
<text transform="translate(75.0,623.6) rotate(0)" font-size="5.4" text-anchor="middle" fill="#555" dy="0.36em">S</text>
<text transform="translate(81.7,623.4) rotate(0)" font-size="6.4" text-anchor="middle" fill="#333" font-weight="bold" dy="0.36em">N</text>
<text transform="translate(87.6,623.4) rotate(0)" font-size="6.4" text-anchor="middle" fill="#7a2428" font-weight="bold" dy="0.36em">W</text>
<text transform="translate(94.0,623.4) rotate(0)" font-size="6.4" text-anchor="middle" fill="#7a2428" font-weight="bold" dy="0.36em">V</text>
<text transform="translate(99.6,623.4) rotate(0)" font-size="6.4" text-anchor="middle" fill="#7a2428" font-weight="bold" dy="0.36em">D</text>
<text transform="translate(104.6,623.4) rotate(0)" font-size="6.2" text-anchor="middle" fill="#c8502a" font-weight="bold" dy="0.36em">E</text>
<text transform="translate(109.0,623.4) rotate(0)" font-size="6.2" text-anchor="middle" fill="#c8502a" font-weight="bold" dy="0.36em">F</text>
<text transform="translate(113.5,623.4) rotate(0)" font-size="6.0" text-anchor="middle" fill="#8a3040" dy="0.36em">D</text>
<text transform="translate(118.3,623.4) rotate(0)" font-size="5.6" text-anchor="middle" fill="#444" dy="0.36em">L</text>
<line x1="79.7" y1="626.4" x2="83.7" y2="626.4" stroke="#555" stroke-width="0.6"/>
<circle cx="94.2" cy="618.2" r="1.05" fill="#c0282a"/>
<circle cx="103.9" cy="619.0" r="1.05" fill="#c0282a"/>
<circle cx="108.7" cy="619.0" r="1.05" fill="#c0282a"/>
<text transform="translate(50.2,629.2) rotate(-60)" font-size="5.2" text-anchor="middle" fill="#444" font-weight="bold" dy="0.36em">D</text>
<text transform="translate(48.0,633.6) rotate(-80)" font-size="5.2" text-anchor="middle" fill="#444" font-weight="bold" dy="0.36em">S</text>
<text transform="translate(48.6,637.6) rotate(-110)" font-size="5.2" text-anchor="middle" fill="#444" font-weight="bold" dy="0.36em">F</text>
<text transform="translate(53,640.8) rotate(0)" font-size="5.4" text-anchor="middle" fill="#555" font-weight="bold" dy="0.36em">P</text>
<text transform="translate(56.9,640.8) rotate(0)" font-size="5.4" text-anchor="middle" fill="#555" font-weight="bold" dy="0.36em">D</text>
<text transform="translate(60.8,640.8) rotate(0)" font-size="5.4" text-anchor="middle" fill="#555" font-weight="bold" dy="0.36em">G</text>
<text transform="translate(64.6,640.8) rotate(0)" font-size="5.4" text-anchor="middle" fill="#555" font-weight="bold" dy="0.36em">D</text>
<text transform="translate(73,640.6) rotate(0)" font-size="6.6" text-anchor="middle" fill="#9aa29a" dy="0.36em">Y</text>
<text transform="translate(78.5,640.6) rotate(0)" font-size="6.6" text-anchor="middle" fill="#9aa29a" dy="0.36em">G</text>
<text transform="translate(83.8,640.6) rotate(0)" font-size="6.6" text-anchor="middle" fill="#9aa29a" dy="0.36em">A</text>
<text transform="translate(88.9,640.6) rotate(0)" font-size="6.6" text-anchor="middle" fill="#9aa29a" dy="0.36em">N</text>
<text transform="translate(93.8,640.6) rotate(0)" font-size="6.6" text-anchor="middle" fill="#9aa29a" dy="0.36em">L</text>
<line x1="71.5" y1="643.4" x2="95.4" y2="643.4" stroke="#9aa29a" stroke-width="0.6"/>
<text transform="translate(98.2,643.2) rotate(20)" font-size="4.8" text-anchor="middle" fill="#444" font-weight="bold" dy="0.36em">E</text>
<text transform="translate(83.6,633.1) rotate(0)" font-size="5.2" text-anchor="middle" fill="#6aaa4a" dy="0.36em">Fya</text>
<text transform="translate(66.9,646.6) rotate(0)" font-size="5.2" text-anchor="middle" fill="#6aaa4a" dy="0.36em">Fyb</text>
<text transform="translate(77.4,646.6) rotate(0)" font-size="5.4" text-anchor="middle" fill="#c0803a" font-weight="bold" dy="0.36em">D</text>
<text transform="translate(102.3,647.0) rotate(30)" font-size="5.2" text-anchor="middle" fill="#444" font-weight="bold" dy="0.36em">A</text>
<text transform="translate(100.3,650.8) rotate(20)" font-size="5.2" text-anchor="middle" fill="#444" font-weight="bold" dy="0.36em">A</text>
<text transform="translate(94.6,653.0) rotate(10)" font-size="5.2" text-anchor="middle" fill="#444" font-weight="bold" dy="0.36em">A</text>
<text transform="translate(89.2,655.2) rotate(0)" font-size="5.6" text-anchor="middle" fill="#6a4a10" font-weight="bold" dy="0.36em">P</text>
<text transform="translate(84.2,655.2) rotate(0)" font-size="5.6" text-anchor="middle" fill="#6a4a10" font-weight="bold" dy="0.36em">C</text>
<text transform="translate(79.2,655.6) rotate(0)" font-size="5" text-anchor="middle" fill="#444" font-weight="bold" dy="0.36em">H</text>
<text transform="translate(73.6,657.0) rotate(-30)" font-size="5" text-anchor="middle" fill="#444" font-weight="bold" dy="0.36em">S</text>
<text transform="translate(72.6,661.4) rotate(-100)" font-size="5.2" text-anchor="middle" fill="#444" font-weight="bold" dy="0.36em">C</text>
<text transform="translate(75.9,664.4) rotate(-40)" font-size="5.2" text-anchor="middle" fill="#444" font-weight="bold" dy="0.36em">N</text>
<text transform="translate(80.3,665.8) rotate(0)" font-size="5.2" text-anchor="middle" fill="#444" font-weight="bold" dy="0.36em">L</text>
<text transform="translate(83.3,666.0) rotate(0)" font-size="5.2" text-anchor="middle" fill="#444" font-weight="bold" dy="0.36em">L</text>
<text transform="translate(87.4,667.0) rotate(10)" font-size="5.2" text-anchor="middle" fill="#444" font-weight="bold" dy="0.36em">D</text>
<text transform="translate(91.5,668.5) rotate(20)" font-size="5.2" text-anchor="middle" fill="#444" font-weight="bold" dy="0.36em">D</text>
<text transform="translate(95.0,671.0) rotate(40)" font-size="4.6" text-anchor="middle" fill="#444" font-weight="bold" dy="0.36em">S</text>
<text x="55.8" y="612.0" font-size="8.2" fill="#111" text-anchor="middle" font-weight="bold" textLength="20" lengthAdjust="spacingAndGlyphs">ECD1</text>
<text x="184.4" y="597.0" font-size="11.6" fill="#000" font-weight="bold">G</text>
<rect x="293.76" y="624.6" width="13.139999999999999" height="75" fill="#f8e6a4"/>
<rect x="474.92" y="624.6" width="13.139999999999999" height="75" fill="#f8e6a4"/>
<rect x="416.69" y="624.6" width="31.35" height="75" fill="#c6e6d2"/>
<text x="245.30" y="633.8" font-size="7.6" fill="#8a93a8" text-anchor="middle" font-weight="bold">T</text>
<text x="251.77" y="633.8" font-size="7.6" fill="#d0605a" text-anchor="middle" font-weight="bold">E</text>
<text x="258.24" y="633.8" font-size="7.6" fill="#8fa0c8" text-anchor="middle" font-weight="bold">N</text>
<text x="264.71" y="633.8" font-size="7.6" fill="#8c8cbc" text-anchor="middle" font-weight="bold">S</text>
<text x="271.18" y="633.8" font-size="7.6" fill="#8c8cbc" text-anchor="middle" font-weight="bold">S</text>
<text x="277.65" y="633.8" font-size="7.6" fill="#7f88bc" text-anchor="middle" font-weight="bold">Q</text>
<text x="284.12" y="633.8" font-size="7.6" fill="#6a7088" text-anchor="middle" font-weight="bold">L</text>
<text x="290.59" y="633.8" font-size="7.6" fill="#cf4848" text-anchor="middle" font-weight="bold">D</text>
<text x="297.06" y="633.8" font-size="7.6" fill="#d8a048" text-anchor="middle" font-weight="bold">F</text>
<text x="303.53" y="633.8" font-size="7.6" fill="#d07848" text-anchor="middle" font-weight="bold">E</text>
<text x="310.00" y="633.8" font-size="7.6" fill="#c84050" text-anchor="middle" font-weight="bold">D</text>
<text x="316.47" y="633.8" font-size="7.6" fill="#5f9c6a" text-anchor="middle" font-weight="bold">V</text>
<text x="322.94" y="633.8" font-size="7.6" fill="#7aa8a0" text-anchor="middle" font-weight="bold">W</text>
<text x="329.41" y="633.8" font-size="7.6" fill="#98a0c0" text-anchor="middle" font-weight="bold">N</text>
<text x="335.88" y="633.8" font-size="7.6" fill="#8c8cbc" text-anchor="middle" font-weight="bold">S</text>
<text x="342.35" y="633.8" font-size="7.6" fill="#8c8cbc" text-anchor="middle" font-weight="bold">S</text>
<text x="348.82" y="633.8" font-size="7.6" fill="#78aca8" text-anchor="middle" font-weight="bold">Y</text>
<text x="355.29" y="633.8" font-size="7.6" fill="#d8a848" text-anchor="middle" font-weight="bold">G</text>
<text x="361.76" y="633.8" font-size="7.6" fill="#68a870" text-anchor="middle" font-weight="bold">V</text>
<text x="368.23" y="633.8" font-size="7.6" fill="#8494c4" text-anchor="middle" font-weight="bold">N</text>
<text x="374.70" y="633.8" font-size="7.6" fill="#c83848" text-anchor="middle" font-weight="bold">D</text>
<text x="381.17" y="633.8" font-size="7.6" fill="#8888b0" text-anchor="middle" font-weight="bold">S</text>
<text x="387.64" y="633.8" font-size="7.6" fill="#80b8a8" text-anchor="middle" font-weight="bold">F</text>
<text x="394.11" y="633.8" font-size="7.6" fill="#a87488" text-anchor="middle" font-weight="bold">P</text>
<text x="400.58" y="633.8" font-size="7.6" fill="#c83848" text-anchor="middle" font-weight="bold">D</text>
<text x="407.05" y="633.8" font-size="7.6" fill="#d8a848" text-anchor="middle" font-weight="bold">G</text>
<text x="413.52" y="633.8" font-size="7.6" fill="#b04060" text-anchor="middle" font-weight="bold">D</text>
<text x="419.99" y="633.8" font-size="7.6" fill="#70a890" text-anchor="middle" font-weight="bold">Y</text>
<text x="426.46" y="633.8" font-size="7.6" fill="#a89848" text-anchor="middle" font-weight="bold">G</text>
<text x="432.93" y="633.8" font-size="7.6" fill="#80a890" text-anchor="middle" font-weight="bold">A</text>
<text x="439.40" y="633.8" font-size="7.6" fill="#8890a0" text-anchor="middle" font-weight="bold">N</text>
<text x="445.87" y="633.8" font-size="7.6" fill="#60a070" text-anchor="middle" font-weight="bold">L</text>
<text x="452.34" y="633.8" font-size="7.6" fill="#e07088" text-anchor="middle" font-weight="bold">E</text>
<text x="458.81" y="633.8" font-size="7.6" fill="#80d0c0" text-anchor="middle" font-weight="bold">A</text>
<text x="465.28" y="633.8" font-size="7.6" fill="#90d0d8" text-anchor="middle" font-weight="bold">A</text>
<text x="471.75" y="633.8" font-size="7.6" fill="#a0c8e0" text-anchor="middle" font-weight="bold">A</text>
<text x="478.22" y="633.8" font-size="7.6" fill="#d8a040" text-anchor="middle" font-weight="bold">P</text>
<text x="484.69" y="633.8" font-size="7.6" fill="#c8a040" text-anchor="middle" font-weight="bold">C</text>
<text x="491.16" y="633.8" font-size="7.6" fill="#d090d0" text-anchor="middle" font-weight="bold">H</text>
<text x="497.63" y="633.8" font-size="7.6" fill="#9090c0" text-anchor="middle" font-weight="bold">S</text>
<circle cx="245.30" cy="622.4" r="0.75" fill="#aaa"/>
<circle cx="251.77" cy="622.4" r="0.75" fill="#aaa"/>
<circle cx="258.24" cy="622.4" r="0.75" fill="#aaa"/>
<circle cx="264.71" cy="622.4" r="0.75" fill="#aaa"/>
<line x1="271.18" y1="619.2" x2="271.18" y2="625.2" stroke="#555" stroke-width="0.8"/>
<circle cx="277.65" cy="622.4" r="0.75" fill="#aaa"/>
<circle cx="284.12" cy="622.4" r="0.75" fill="#aaa"/>
<circle cx="290.59" cy="622.4" r="0.75" fill="#aaa"/>
<circle cx="310.00" cy="622.4" r="0.75" fill="#aaa"/>
<circle cx="322.94" cy="622.4" r="0.75" fill="#aaa"/>
<circle cx="329.41" cy="622.4" r="0.75" fill="#aaa"/>
<line x1="335.88" y1="619.2" x2="335.88" y2="625.2" stroke="#555" stroke-width="0.8"/>
<circle cx="342.35" cy="622.4" r="0.75" fill="#aaa"/>
<circle cx="348.82" cy="622.4" r="0.75" fill="#aaa"/>
<circle cx="355.29" cy="622.4" r="0.75" fill="#aaa"/>
<circle cx="361.76" cy="622.4" r="0.75" fill="#aaa"/>
<line x1="368.23" y1="619.2" x2="368.23" y2="625.2" stroke="#555" stroke-width="0.8"/>
<circle cx="374.70" cy="622.4" r="0.75" fill="#aaa"/>
<circle cx="381.17" cy="622.4" r="0.75" fill="#aaa"/>
<circle cx="387.64" cy="622.4" r="0.75" fill="#aaa"/>
<circle cx="394.11" cy="622.4" r="0.75" fill="#aaa"/>
<line x1="400.58000000000004" y1="619.2" x2="400.58000000000004" y2="625.2" stroke="#555" stroke-width="0.8"/>
<circle cx="407.05" cy="622.4" r="0.75" fill="#aaa"/>
<circle cx="413.52" cy="622.4" r="0.75" fill="#aaa"/>
<circle cx="419.99" cy="622.4" r="0.75" fill="#aaa"/>
<circle cx="426.46" cy="622.4" r="0.75" fill="#aaa"/>
<line x1="432.93" y1="619.2" x2="432.93" y2="625.2" stroke="#555" stroke-width="0.8"/>
<circle cx="439.40" cy="622.4" r="0.75" fill="#aaa"/>
<circle cx="445.87" cy="622.4" r="0.75" fill="#aaa"/>
<circle cx="452.34" cy="622.4" r="0.75" fill="#aaa"/>
<circle cx="458.81" cy="622.4" r="0.75" fill="#aaa"/>
<line x1="465.28" y1="619.2" x2="465.28" y2="625.2" stroke="#555" stroke-width="0.8"/>
<circle cx="471.75" cy="622.4" r="0.75" fill="#aaa"/>
<circle cx="478.22" cy="622.4" r="0.75" fill="#aaa"/>
<circle cx="484.69" cy="622.4" r="0.75" fill="#aaa"/>
<circle cx="491.16" cy="622.4" r="0.75" fill="#aaa"/>
<line x1="497.63" y1="619.2" x2="497.63" y2="625.2" stroke="#555" stroke-width="0.8"/>
<circle cx="297.06" cy="622.3" r="1.3" fill="#b81a2e"/>
<circle cx="303.53" cy="622.3" r="1.3" fill="#b81a2e"/>
<circle cx="316.47" cy="622.3" r="1.3" fill="#b81a2e"/>
<text x="303.53" y="617.0" font-size="5.2" fill="#222" text-anchor="middle" stroke="#222" stroke-width="0.22">10</text>
<text x="368.23" y="617.0" font-size="5.2" fill="#222" text-anchor="middle" stroke="#222" stroke-width="0.22">20</text>
<text x="432.93" y="617.0" font-size="5.2" fill="#222" text-anchor="middle" stroke="#222" stroke-width="0.22">30</text>
<text x="497.63" y="617.0" font-size="5.2" fill="#222" text-anchor="middle" stroke="#222" stroke-width="0.22">40</text>
<text x="197.3" y="633.9" font-size="8.0" fill="#111" font-weight="bold" font-style="italic">H. sapiens</text>
<text x="197.3" y="642.9" font-size="8.0" fill="#111" font-weight="bold" font-style="italic">M. mulatta</text>
<text x="197.3" y="651.9" font-size="8.0" fill="#111" font-weight="bold" font-style="italic">M. mulatta*</text>
<text x="215.8" y="661.1" font-size="8.0" fill="#111" font-weight="bold">D1</text>
<text x="215.8" y="670.1" font-size="8.0" fill="#111" font-weight="bold">D2</text>
<text x="215.8" y="679.0" font-size="8.0" fill="#111" font-weight="bold">D3*</text>
<text x="215.8" y="688.1" font-size="8.0" fill="#111" font-weight="bold">D4*</text>
<text x="215.8" y="697.1" font-size="8.0" fill="#111" font-weight="bold">D5*</text>
<circle cx="245.30" cy="640.50" r="0.8" fill="#8a93a8" opacity="0.75"/>
<text x="251.77" y="642.8" font-size="7.6" fill="#7f88bc" text-anchor="middle" font-weight="bold">Q</text>
<circle cx="258.24" cy="640.50" r="0.8" fill="#8fa0c8" opacity="0.75"/>
<circle cx="264.71" cy="640.50" r="0.8" fill="#8c8cbc" opacity="0.75"/>
<circle cx="271.18" cy="640.50" r="0.8" fill="#8c8cbc" opacity="0.75"/>
<circle cx="277.65" cy="640.50" r="0.8" fill="#7f88bc" opacity="0.75"/>
<circle cx="284.12" cy="640.50" r="0.8" fill="#6a7088" opacity="0.75"/>
<text x="290.59" y="642.8" font-size="7.6" fill="#8a90c8" text-anchor="middle" font-weight="bold">N</text>
<text x="297.06" y="642.8" font-size="7.6" fill="#a09040" text-anchor="middle" font-weight="bold">S</text>
<circle cx="303.53" cy="640.50" r="0.8" fill="#d07848" opacity="0.75"/>
<circle cx="310.00" cy="640.50" r="0.8" fill="#c84050" opacity="0.75"/>
<text x="316.47" y="642.8" font-size="7.6" fill="#4f7f5a" text-anchor="middle" font-weight="bold">L</text>
<circle cx="322.94" cy="640.50" r="0.8" fill="#7aa8a0" opacity="0.75"/>
<circle cx="329.41" cy="640.50" r="0.8" fill="#98a0c0" opacity="0.75"/>
<text x="335.88" y="642.8" font-size="7.6" fill="#80a8a0" text-anchor="middle" font-weight="bold">F</text>
<circle cx="342.35" cy="640.50" r="0.8" fill="#8c8cbc" opacity="0.75"/>
<circle cx="348.82" cy="640.50" r="0.8" fill="#78aca8" opacity="0.75"/>
<text x="355.29" y="642.8" font-size="7.6" fill="#cc3040" text-anchor="middle" font-weight="bold">D</text>
<text x="361.76" y="642.8" font-size="7.6" fill="#d8a048" text-anchor="middle" font-weight="bold">G</text>
<circle cx="368.23" cy="640.50" r="0.8" fill="#8494c4" opacity="0.75"/>
<circle cx="374.70" cy="640.50" r="0.8" fill="#c83848" opacity="0.75"/>
<circle cx="381.17" cy="640.50" r="0.8" fill="#8888b0" opacity="0.75"/>
<circle cx="387.64" cy="640.50" r="0.8" fill="#80b8a8" opacity="0.75"/>
<circle cx="394.11" cy="640.50" r="0.8" fill="#a87488" opacity="0.75"/>
<circle cx="400.58" cy="640.50" r="0.8" fill="#444" opacity="0.9"/>
<text x="407.05" y="642.8" font-size="7.6" fill="#5a7a70" text-anchor="middle" font-weight="bold">V</text>
<circle cx="413.52" cy="640.50" r="0.8" fill="#444" opacity="0.9"/>
<circle cx="419.99" cy="640.50" r="0.8" fill="#70a890" opacity="0.75"/>
<text x="426.46" y="642.8" font-size="7.6" fill="#6a5220" text-anchor="middle" font-weight="bold">D</text>
<circle cx="432.93" cy="640.50" r="0.8" fill="#80a890" opacity="0.75"/>
<circle cx="439.40" cy="640.50" r="0.8" fill="#8890a0" opacity="0.75"/>
<circle cx="445.87" cy="640.50" r="0.8" fill="#60a070" opacity="0.75"/>
<circle cx="452.34" cy="640.50" r="0.8" fill="#e07088" opacity="0.75"/>
<circle cx="458.81" cy="640.50" r="0.8" fill="#80d0c0" opacity="0.75"/>
<circle cx="465.28" cy="640.50" r="0.8" fill="#90d0d8" opacity="0.75"/>
<circle cx="471.75" cy="640.50" r="0.8" fill="#a0c8e0" opacity="0.75"/>
<circle cx="478.22" cy="640.50" r="0.8" fill="#d8a040" opacity="0.75"/>
<circle cx="484.69" cy="640.50" r="0.8" fill="#c8a040" opacity="0.75"/>
<circle cx="491.16" cy="640.50" r="0.8" fill="#d090d0" opacity="0.75"/>
<circle cx="497.63" cy="640.50" r="0.8" fill="#9090c0" opacity="0.75"/>
<circle cx="245.30" cy="649.50" r="0.8" fill="#8a93a8" opacity="0.75"/>
<text x="251.77" y="651.8" font-size="7.6" fill="#7f88bc" text-anchor="middle" font-weight="bold">Q</text>
<circle cx="258.24" cy="649.50" r="0.8" fill="#8fa0c8" opacity="0.75"/>
<circle cx="264.71" cy="649.50" r="0.8" fill="#8c8cbc" opacity="0.75"/>
<circle cx="271.18" cy="649.50" r="0.8" fill="#8c8cbc" opacity="0.75"/>
<circle cx="277.65" cy="649.50" r="0.8" fill="#7f88bc" opacity="0.75"/>
<circle cx="284.12" cy="649.50" r="0.8" fill="#6a7088" opacity="0.75"/>
<text x="290.59" y="651.8" font-size="7.6" fill="#8a90c8" text-anchor="middle" font-weight="bold">N</text>
<text x="297.06" y="651.8" font-size="7.6" fill="#a09040" text-anchor="middle" font-weight="bold">S</text>
<line x1="301.33000000000004" y1="649.3" x2="305.73" y2="649.3" stroke="#111" stroke-width="1.3"/>
<circle cx="310.00" cy="649.50" r="0.8" fill="#c84050" opacity="0.75"/>
<text x="316.47" y="651.8" font-size="7.6" fill="#4f7f5a" text-anchor="middle" font-weight="bold">L</text>
<circle cx="322.94" cy="649.50" r="0.8" fill="#7aa8a0" opacity="0.75"/>
<circle cx="329.41" cy="649.50" r="0.8" fill="#98a0c0" opacity="0.75"/>
<text x="335.88" y="651.8" font-size="7.6" fill="#80a8a0" text-anchor="middle" font-weight="bold">F</text>
<circle cx="342.35" cy="649.50" r="0.8" fill="#8c8cbc" opacity="0.75"/>
<circle cx="348.82" cy="649.50" r="0.8" fill="#78aca8" opacity="0.75"/>
<text x="355.29" y="651.8" font-size="7.6" fill="#cc3040" text-anchor="middle" font-weight="bold">D</text>
<text x="361.76" y="651.8" font-size="7.6" fill="#d8a048" text-anchor="middle" font-weight="bold">G</text>
<circle cx="368.23" cy="649.50" r="0.8" fill="#8494c4" opacity="0.75"/>
<circle cx="374.70" cy="649.50" r="0.8" fill="#c83848" opacity="0.75"/>
<circle cx="381.17" cy="649.50" r="0.8" fill="#8888b0" opacity="0.75"/>
<circle cx="387.64" cy="649.50" r="0.8" fill="#80b8a8" opacity="0.75"/>
<circle cx="394.11" cy="649.50" r="0.8" fill="#a87488" opacity="0.75"/>
<circle cx="400.58" cy="649.50" r="0.8" fill="#444" opacity="0.9"/>
<text x="407.05" y="651.8" font-size="7.6" fill="#5a7a70" text-anchor="middle" font-weight="bold">V</text>
<circle cx="413.52" cy="649.50" r="0.8" fill="#444" opacity="0.9"/>
<circle cx="419.99" cy="649.50" r="0.8" fill="#70a890" opacity="0.75"/>
<text x="426.46" y="651.8" font-size="7.6" fill="#6a5220" text-anchor="middle" font-weight="bold">D</text>
<circle cx="432.93" cy="649.50" r="0.8" fill="#80a890" opacity="0.75"/>
<circle cx="439.40" cy="649.50" r="0.8" fill="#8890a0" opacity="0.75"/>
<circle cx="445.87" cy="649.50" r="0.8" fill="#60a070" opacity="0.75"/>
<circle cx="452.34" cy="649.50" r="0.8" fill="#e07088" opacity="0.75"/>
<circle cx="458.81" cy="649.50" r="0.8" fill="#80d0c0" opacity="0.75"/>
<circle cx="465.28" cy="649.50" r="0.8" fill="#90d0d8" opacity="0.75"/>
<circle cx="471.75" cy="649.50" r="0.8" fill="#a0c8e0" opacity="0.75"/>
<circle cx="478.22" cy="649.50" r="0.8" fill="#d8a040" opacity="0.75"/>
<circle cx="484.69" cy="649.50" r="0.8" fill="#c8a040" opacity="0.75"/>
<circle cx="491.16" cy="649.50" r="0.8" fill="#d090d0" opacity="0.75"/>
<circle cx="497.63" cy="649.50" r="0.8" fill="#9090c0" opacity="0.75"/>
<circle cx="245.30" cy="658.70" r="0.8" fill="#8a93a8" opacity="0.75"/>
<text x="251.77" y="661.0" font-size="7.6" fill="#7f88bc" text-anchor="middle" font-weight="bold">Q</text>
<circle cx="258.24" cy="658.70" r="0.8" fill="#8fa0c8" opacity="0.75"/>
<circle cx="264.71" cy="658.70" r="0.8" fill="#8c8cbc" opacity="0.75"/>
<circle cx="271.18" cy="658.70" r="0.8" fill="#8c8cbc" opacity="0.75"/>
<circle cx="277.65" cy="658.70" r="0.8" fill="#7f88bc" opacity="0.75"/>
<circle cx="284.12" cy="658.70" r="0.8" fill="#6a7088" opacity="0.75"/>
<text x="290.59" y="661.0" font-size="7.6" fill="#8a90c8" text-anchor="middle" font-weight="bold">N</text>
<text x="297.06" y="661.0" font-size="7.6" fill="#a09040" text-anchor="middle" font-weight="bold">S</text>
<circle cx="303.53" cy="658.70" r="0.8" fill="#d07848" opacity="0.75"/>
<circle cx="310.00" cy="658.70" r="0.8" fill="#c84050" opacity="0.75"/>
<text x="316.47" y="661.0" font-size="7.6" fill="#4f7f5a" text-anchor="middle" font-weight="bold">L</text>
<circle cx="322.94" cy="658.70" r="0.8" fill="#7aa8a0" opacity="0.75"/>
<circle cx="329.41" cy="658.70" r="0.8" fill="#98a0c0" opacity="0.75"/>
<text x="335.88" y="661.0" font-size="7.6" fill="#80a8a0" text-anchor="middle" font-weight="bold">F</text>
<circle cx="342.35" cy="658.70" r="0.8" fill="#8c8cbc" opacity="0.75"/>
<circle cx="348.82" cy="658.70" r="0.8" fill="#78aca8" opacity="0.75"/>
<text x="355.29" y="661.0" font-size="7.6" fill="#cc3040" text-anchor="middle" font-weight="bold">D</text>
<text x="361.76" y="661.0" font-size="7.6" fill="#d8a048" text-anchor="middle" font-weight="bold">G</text>
<circle cx="368.23" cy="658.70" r="0.8" fill="#8494c4" opacity="0.75"/>
<circle cx="374.70" cy="658.70" r="0.8" fill="#c83848" opacity="0.75"/>
<circle cx="381.17" cy="658.70" r="0.8" fill="#8888b0" opacity="0.75"/>
<circle cx="387.64" cy="658.70" r="0.8" fill="#80b8a8" opacity="0.75"/>
<circle cx="394.11" cy="658.70" r="0.8" fill="#a87488" opacity="0.75"/>
<circle cx="400.58" cy="658.70" r="0.8" fill="#444" opacity="0.9"/>
<text x="407.05" y="661.0" font-size="7.6" fill="#5a7a70" text-anchor="middle" font-weight="bold">V</text>
<circle cx="413.52" cy="658.70" r="0.8" fill="#444" opacity="0.9"/>
<circle cx="419.99" cy="658.70" r="0.8" fill="#70a890" opacity="0.75"/>
<text x="426.46" y="661.0" font-size="7.6" fill="#6a5220" text-anchor="middle" font-weight="bold">D</text>
<circle cx="432.93" cy="658.70" r="0.8" fill="#80a890" opacity="0.75"/>
<circle cx="439.40" cy="658.70" r="0.8" fill="#8890a0" opacity="0.75"/>
<circle cx="445.87" cy="658.70" r="0.8" fill="#60a070" opacity="0.75"/>
<circle cx="452.34" cy="658.70" r="0.8" fill="#e07088" opacity="0.75"/>
<circle cx="458.81" cy="658.70" r="0.8" fill="#80d0c0" opacity="0.75"/>
<circle cx="465.28" cy="658.70" r="0.8" fill="#90d0d8" opacity="0.75"/>
<circle cx="471.75" cy="658.70" r="0.8" fill="#a0c8e0" opacity="0.75"/>
<circle cx="478.22" cy="658.70" r="0.8" fill="#d8a040" opacity="0.75"/>
<circle cx="484.69" cy="658.70" r="0.8" fill="#c8a040" opacity="0.75"/>
<circle cx="491.16" cy="658.70" r="0.8" fill="#d090d0" opacity="0.75"/>
<circle cx="497.63" cy="658.70" r="0.8" fill="#9090c0" opacity="0.75"/>
<circle cx="245.30" cy="667.70" r="0.8" fill="#8a93a8" opacity="0.75"/>
<text x="251.77" y="670.0" font-size="7.6" fill="#7f88bc" text-anchor="middle" font-weight="bold">Q</text>
<circle cx="258.24" cy="667.70" r="0.8" fill="#8fa0c8" opacity="0.75"/>
<circle cx="264.71" cy="667.70" r="0.8" fill="#8c8cbc" opacity="0.75"/>
<circle cx="271.18" cy="667.70" r="0.8" fill="#8c8cbc" opacity="0.75"/>
<circle cx="277.65" cy="667.70" r="0.8" fill="#7f88bc" opacity="0.75"/>
<circle cx="284.12" cy="667.70" r="0.8" fill="#6a7088" opacity="0.75"/>
<text x="290.59" y="670.0" font-size="7.6" fill="#8a90c8" text-anchor="middle" font-weight="bold">N</text>
<text x="297.06" y="670.0" font-size="7.6" fill="#a09040" text-anchor="middle" font-weight="bold">S</text>
<circle cx="303.53" cy="667.70" r="0.8" fill="#d07848" opacity="0.75"/>
<circle cx="310.00" cy="667.70" r="0.8" fill="#c84050" opacity="0.75"/>
<text x="316.47" y="670.0" font-size="7.6" fill="#4f7f5a" text-anchor="middle" font-weight="bold">L</text>
<circle cx="322.94" cy="667.70" r="0.8" fill="#7aa8a0" opacity="0.75"/>
<circle cx="329.41" cy="667.70" r="0.8" fill="#98a0c0" opacity="0.75"/>
<text x="335.88" y="670.0" font-size="7.6" fill="#80a8a0" text-anchor="middle" font-weight="bold">F</text>
<circle cx="342.35" cy="667.70" r="0.8" fill="#8c8cbc" opacity="0.75"/>
<circle cx="348.82" cy="667.70" r="0.8" fill="#78aca8" opacity="0.75"/>
<text x="355.29" y="670.0" font-size="7.6" fill="#cc3040" text-anchor="middle" font-weight="bold">D</text>
<text x="361.76" y="670.0" font-size="7.6" fill="#d8a048" text-anchor="middle" font-weight="bold">G</text>
<circle cx="368.23" cy="667.70" r="0.8" fill="#8494c4" opacity="0.75"/>
<circle cx="374.70" cy="667.70" r="0.8" fill="#c83848" opacity="0.75"/>
<circle cx="381.17" cy="667.70" r="0.8" fill="#8888b0" opacity="0.75"/>
<circle cx="387.64" cy="667.70" r="0.8" fill="#80b8a8" opacity="0.75"/>
<circle cx="394.11" cy="667.70" r="0.8" fill="#a87488" opacity="0.75"/>
<circle cx="400.58" cy="667.70" r="0.8" fill="#444" opacity="0.9"/>
<text x="407.05" y="670.0" font-size="7.6" fill="#5a7a70" text-anchor="middle" font-weight="bold">V</text>
<circle cx="413.52" cy="667.70" r="0.8" fill="#444" opacity="0.9"/>
<circle cx="419.99" cy="667.70" r="0.8" fill="#70a890" opacity="0.75"/>
<text x="426.46" y="670.0" font-size="7.6" fill="#6a5220" text-anchor="middle" font-weight="bold">D</text>
<circle cx="432.93" cy="667.70" r="0.8" fill="#80a890" opacity="0.75"/>
<circle cx="439.40" cy="667.70" r="0.8" fill="#8890a0" opacity="0.75"/>
<circle cx="445.87" cy="667.70" r="0.8" fill="#60a070" opacity="0.75"/>
<circle cx="452.34" cy="667.70" r="0.8" fill="#e07088" opacity="0.75"/>
<circle cx="458.81" cy="667.70" r="0.8" fill="#80d0c0" opacity="0.75"/>
<circle cx="465.28" cy="667.70" r="0.8" fill="#90d0d8" opacity="0.75"/>
<circle cx="471.75" cy="667.70" r="0.8" fill="#a0c8e0" opacity="0.75"/>
<circle cx="478.22" cy="667.70" r="0.8" fill="#d8a040" opacity="0.75"/>
<circle cx="484.69" cy="667.70" r="0.8" fill="#c8a040" opacity="0.75"/>
<circle cx="491.16" cy="667.70" r="0.8" fill="#d090d0" opacity="0.75"/>
<circle cx="497.63" cy="667.70" r="0.8" fill="#9090c0" opacity="0.75"/>
<circle cx="245.30" cy="676.60" r="0.8" fill="#8a93a8" opacity="0.75"/>
<text x="251.77" y="678.9" font-size="7.6" fill="#7f88bc" text-anchor="middle" font-weight="bold">Q</text>
<circle cx="258.24" cy="676.60" r="0.8" fill="#8fa0c8" opacity="0.75"/>
<circle cx="264.71" cy="676.60" r="0.8" fill="#8c8cbc" opacity="0.75"/>
<circle cx="271.18" cy="676.60" r="0.8" fill="#8c8cbc" opacity="0.75"/>
<circle cx="277.65" cy="676.60" r="0.8" fill="#7f88bc" opacity="0.75"/>
<circle cx="284.12" cy="676.60" r="0.8" fill="#6a7088" opacity="0.75"/>
<text x="290.59" y="678.9" font-size="7.6" fill="#8a90c8" text-anchor="middle" font-weight="bold">N</text>
<text x="297.06" y="678.9" font-size="7.6" fill="#a09040" text-anchor="middle" font-weight="bold">S</text>
<line x1="301.33000000000004" y1="676.4" x2="305.73" y2="676.4" stroke="#111" stroke-width="1.3"/>
<circle cx="310.00" cy="676.60" r="0.8" fill="#c84050" opacity="0.75"/>
<text x="316.47" y="678.9" font-size="7.6" fill="#4f7f5a" text-anchor="middle" font-weight="bold">L</text>
<circle cx="322.94" cy="676.60" r="0.8" fill="#7aa8a0" opacity="0.75"/>
<circle cx="329.41" cy="676.60" r="0.8" fill="#98a0c0" opacity="0.75"/>
<text x="335.88" y="678.9" font-size="7.6" fill="#80a8a0" text-anchor="middle" font-weight="bold">F</text>
<circle cx="342.35" cy="676.60" r="0.8" fill="#8c8cbc" opacity="0.75"/>
<circle cx="348.82" cy="676.60" r="0.8" fill="#78aca8" opacity="0.75"/>
<text x="355.29" y="678.9" font-size="7.6" fill="#cc3040" text-anchor="middle" font-weight="bold">D</text>
<text x="361.76" y="678.9" font-size="7.6" fill="#d8a048" text-anchor="middle" font-weight="bold">G</text>
<circle cx="368.23" cy="676.60" r="0.8" fill="#8494c4" opacity="0.75"/>
<circle cx="374.70" cy="676.60" r="0.8" fill="#c83848" opacity="0.75"/>
<circle cx="381.17" cy="676.60" r="0.8" fill="#8888b0" opacity="0.75"/>
<circle cx="387.64" cy="676.60" r="0.8" fill="#80b8a8" opacity="0.75"/>
<circle cx="394.11" cy="676.60" r="0.8" fill="#a87488" opacity="0.75"/>
<circle cx="400.58" cy="676.60" r="0.8" fill="#444" opacity="0.9"/>
<text x="407.05" y="678.9" font-size="7.6" fill="#5a7a70" text-anchor="middle" font-weight="bold">V</text>
<circle cx="413.52" cy="676.60" r="0.8" fill="#444" opacity="0.9"/>
<circle cx="419.99" cy="676.60" r="0.8" fill="#70a890" opacity="0.75"/>
<text x="426.46" y="678.9" font-size="7.6" fill="#6a5220" text-anchor="middle" font-weight="bold">D</text>
<circle cx="432.93" cy="676.60" r="0.8" fill="#80a890" opacity="0.75"/>
<circle cx="439.40" cy="676.60" r="0.8" fill="#8890a0" opacity="0.75"/>
<circle cx="445.87" cy="676.60" r="0.8" fill="#60a070" opacity="0.75"/>
<circle cx="452.34" cy="676.60" r="0.8" fill="#e07088" opacity="0.75"/>
<circle cx="458.81" cy="676.60" r="0.8" fill="#80d0c0" opacity="0.75"/>
<circle cx="465.28" cy="676.60" r="0.8" fill="#90d0d8" opacity="0.75"/>
<circle cx="471.75" cy="676.60" r="0.8" fill="#a0c8e0" opacity="0.75"/>
<circle cx="478.22" cy="676.60" r="0.8" fill="#d8a040" opacity="0.75"/>
<circle cx="484.69" cy="676.60" r="0.8" fill="#c8a040" opacity="0.75"/>
<circle cx="491.16" cy="676.60" r="0.8" fill="#d090d0" opacity="0.75"/>
<circle cx="497.63" cy="676.60" r="0.8" fill="#9090c0" opacity="0.75"/>
<circle cx="245.30" cy="685.70" r="0.8" fill="#8a93a8" opacity="0.75"/>
<text x="251.77" y="688.0" font-size="7.6" fill="#7f88bc" text-anchor="middle" font-weight="bold">Q</text>
<circle cx="258.24" cy="685.70" r="0.8" fill="#8fa0c8" opacity="0.75"/>
<circle cx="264.71" cy="685.70" r="0.8" fill="#8c8cbc" opacity="0.75"/>
<circle cx="271.18" cy="685.70" r="0.8" fill="#8c8cbc" opacity="0.75"/>
<circle cx="277.65" cy="685.70" r="0.8" fill="#7f88bc" opacity="0.75"/>
<circle cx="284.12" cy="685.70" r="0.8" fill="#6a7088" opacity="0.75"/>
<text x="290.59" y="688.0" font-size="7.6" fill="#8a90c8" text-anchor="middle" font-weight="bold">N</text>
<text x="297.06" y="688.0" font-size="7.6" fill="#a09040" text-anchor="middle" font-weight="bold">S</text>
<line x1="301.33000000000004" y1="685.5" x2="305.73" y2="685.5" stroke="#111" stroke-width="1.3"/>
<circle cx="310.00" cy="685.70" r="0.8" fill="#c84050" opacity="0.75"/>
<text x="316.47" y="688.0" font-size="7.6" fill="#4f7f5a" text-anchor="middle" font-weight="bold">L</text>
<circle cx="322.94" cy="685.70" r="0.8" fill="#7aa8a0" opacity="0.75"/>
<circle cx="329.41" cy="685.70" r="0.8" fill="#98a0c0" opacity="0.75"/>
<text x="335.88" y="688.0" font-size="7.6" fill="#80a8a0" text-anchor="middle" font-weight="bold">F</text>
<circle cx="342.35" cy="685.70" r="0.8" fill="#8c8cbc" opacity="0.75"/>
<circle cx="348.82" cy="685.70" r="0.8" fill="#78aca8" opacity="0.75"/>
<text x="355.29" y="688.0" font-size="7.6" fill="#cc3040" text-anchor="middle" font-weight="bold">D</text>
<text x="361.76" y="688.0" font-size="7.6" fill="#d8a048" text-anchor="middle" font-weight="bold">G</text>
<circle cx="368.23" cy="685.70" r="0.8" fill="#8494c4" opacity="0.75"/>
<circle cx="374.70" cy="685.70" r="0.8" fill="#c83848" opacity="0.75"/>
<circle cx="381.17" cy="685.70" r="0.8" fill="#8888b0" opacity="0.75"/>
<circle cx="387.64" cy="685.70" r="0.8" fill="#80b8a8" opacity="0.75"/>
<circle cx="394.11" cy="685.70" r="0.8" fill="#a87488" opacity="0.75"/>
<circle cx="400.58" cy="685.70" r="0.8" fill="#444" opacity="0.9"/>
<text x="407.05" y="688.0" font-size="7.6" fill="#5a7a70" text-anchor="middle" font-weight="bold">V</text>
<circle cx="413.52" cy="685.70" r="0.8" fill="#444" opacity="0.9"/>
<circle cx="419.99" cy="685.70" r="0.8" fill="#70a890" opacity="0.75"/>
<text x="426.46" y="688.0" font-size="7.6" fill="#6a5220" text-anchor="middle" font-weight="bold">D</text>
<circle cx="432.93" cy="685.70" r="0.8" fill="#80a890" opacity="0.75"/>
<circle cx="439.40" cy="685.70" r="0.8" fill="#8890a0" opacity="0.75"/>
<circle cx="445.87" cy="685.70" r="0.8" fill="#60a070" opacity="0.75"/>
<circle cx="452.34" cy="685.70" r="0.8" fill="#e07088" opacity="0.75"/>
<circle cx="458.81" cy="685.70" r="0.8" fill="#80d0c0" opacity="0.75"/>
<circle cx="465.28" cy="685.70" r="0.8" fill="#90d0d8" opacity="0.75"/>
<circle cx="471.75" cy="685.70" r="0.8" fill="#a0c8e0" opacity="0.75"/>
<circle cx="478.22" cy="685.70" r="0.8" fill="#d8a040" opacity="0.75"/>
<circle cx="484.69" cy="685.70" r="0.8" fill="#c8a040" opacity="0.75"/>
<circle cx="491.16" cy="685.70" r="0.8" fill="#d090d0" opacity="0.75"/>
<circle cx="497.63" cy="685.70" r="0.8" fill="#9090c0" opacity="0.75"/>
<circle cx="245.30" cy="694.70" r="0.8" fill="#8a93a8" opacity="0.75"/>
<text x="251.77" y="697.0" font-size="7.6" fill="#7f88bc" text-anchor="middle" font-weight="bold">Q</text>
<circle cx="258.24" cy="694.70" r="0.8" fill="#8fa0c8" opacity="0.75"/>
<circle cx="264.71" cy="694.70" r="0.8" fill="#8c8cbc" opacity="0.75"/>
<circle cx="271.18" cy="694.70" r="0.8" fill="#8c8cbc" opacity="0.75"/>
<circle cx="277.65" cy="694.70" r="0.8" fill="#7f88bc" opacity="0.75"/>
<circle cx="284.12" cy="694.70" r="0.8" fill="#6a7088" opacity="0.75"/>
<text x="290.59" y="697.0" font-size="7.6" fill="#8a90c8" text-anchor="middle" font-weight="bold">N</text>
<text x="297.06" y="697.0" font-size="7.6" fill="#a09040" text-anchor="middle" font-weight="bold">S</text>
<line x1="301.33000000000004" y1="694.5" x2="305.73" y2="694.5" stroke="#111" stroke-width="1.3"/>
<circle cx="310.00" cy="694.70" r="0.8" fill="#c84050" opacity="0.75"/>
<text x="316.47" y="697.0" font-size="7.6" fill="#4f7f5a" text-anchor="middle" font-weight="bold">L</text>
<circle cx="322.94" cy="694.70" r="0.8" fill="#7aa8a0" opacity="0.75"/>
<circle cx="329.41" cy="694.70" r="0.8" fill="#98a0c0" opacity="0.75"/>
<text x="335.88" y="697.0" font-size="7.6" fill="#80a8a0" text-anchor="middle" font-weight="bold">F</text>
<circle cx="342.35" cy="694.70" r="0.8" fill="#8c8cbc" opacity="0.75"/>
<circle cx="348.82" cy="694.70" r="0.8" fill="#78aca8" opacity="0.75"/>
<text x="355.29" y="697.0" font-size="7.6" fill="#cc3040" text-anchor="middle" font-weight="bold">D</text>
<text x="361.76" y="697.0" font-size="7.6" fill="#d8a048" text-anchor="middle" font-weight="bold">G</text>
<circle cx="368.23" cy="694.70" r="0.8" fill="#8494c4" opacity="0.75"/>
<circle cx="374.70" cy="694.70" r="0.8" fill="#c83848" opacity="0.75"/>
<circle cx="381.17" cy="694.70" r="0.8" fill="#8888b0" opacity="0.75"/>
<circle cx="387.64" cy="694.70" r="0.8" fill="#80b8a8" opacity="0.75"/>
<circle cx="394.11" cy="694.70" r="0.8" fill="#a87488" opacity="0.75"/>
<circle cx="400.58" cy="694.70" r="0.8" fill="#444" opacity="0.9"/>
<text x="407.05" y="697.0" font-size="7.6" fill="#5a7a70" text-anchor="middle" font-weight="bold">V</text>
<circle cx="413.52" cy="694.70" r="0.8" fill="#444" opacity="0.9"/>
<circle cx="419.99" cy="694.70" r="0.8" fill="#70a890" opacity="0.75"/>
<text x="426.46" y="697.0" font-size="7.6" fill="#6a5220" text-anchor="middle" font-weight="bold">D</text>
<circle cx="432.93" cy="694.70" r="0.8" fill="#80a890" opacity="0.75"/>
<circle cx="439.40" cy="694.70" r="0.8" fill="#8890a0" opacity="0.75"/>
<circle cx="445.87" cy="694.70" r="0.8" fill="#60a070" opacity="0.75"/>
<circle cx="452.34" cy="694.70" r="0.8" fill="#e07088" opacity="0.75"/>
<circle cx="458.81" cy="694.70" r="0.8" fill="#80d0c0" opacity="0.75"/>
<circle cx="465.28" cy="694.70" r="0.8" fill="#90d0d8" opacity="0.75"/>
<circle cx="471.75" cy="694.70" r="0.8" fill="#a0c8e0" opacity="0.75"/>
<circle cx="478.22" cy="694.70" r="0.8" fill="#d8a040" opacity="0.75"/>
<circle cx="484.69" cy="694.70" r="0.8" fill="#c8a040" opacity="0.75"/>
<circle cx="491.16" cy="694.70" r="0.8" fill="#d090d0" opacity="0.75"/>
<circle cx="497.63" cy="694.70" r="0.8" fill="#9090c0" opacity="0.75"/>
</svg>
</body></html>
